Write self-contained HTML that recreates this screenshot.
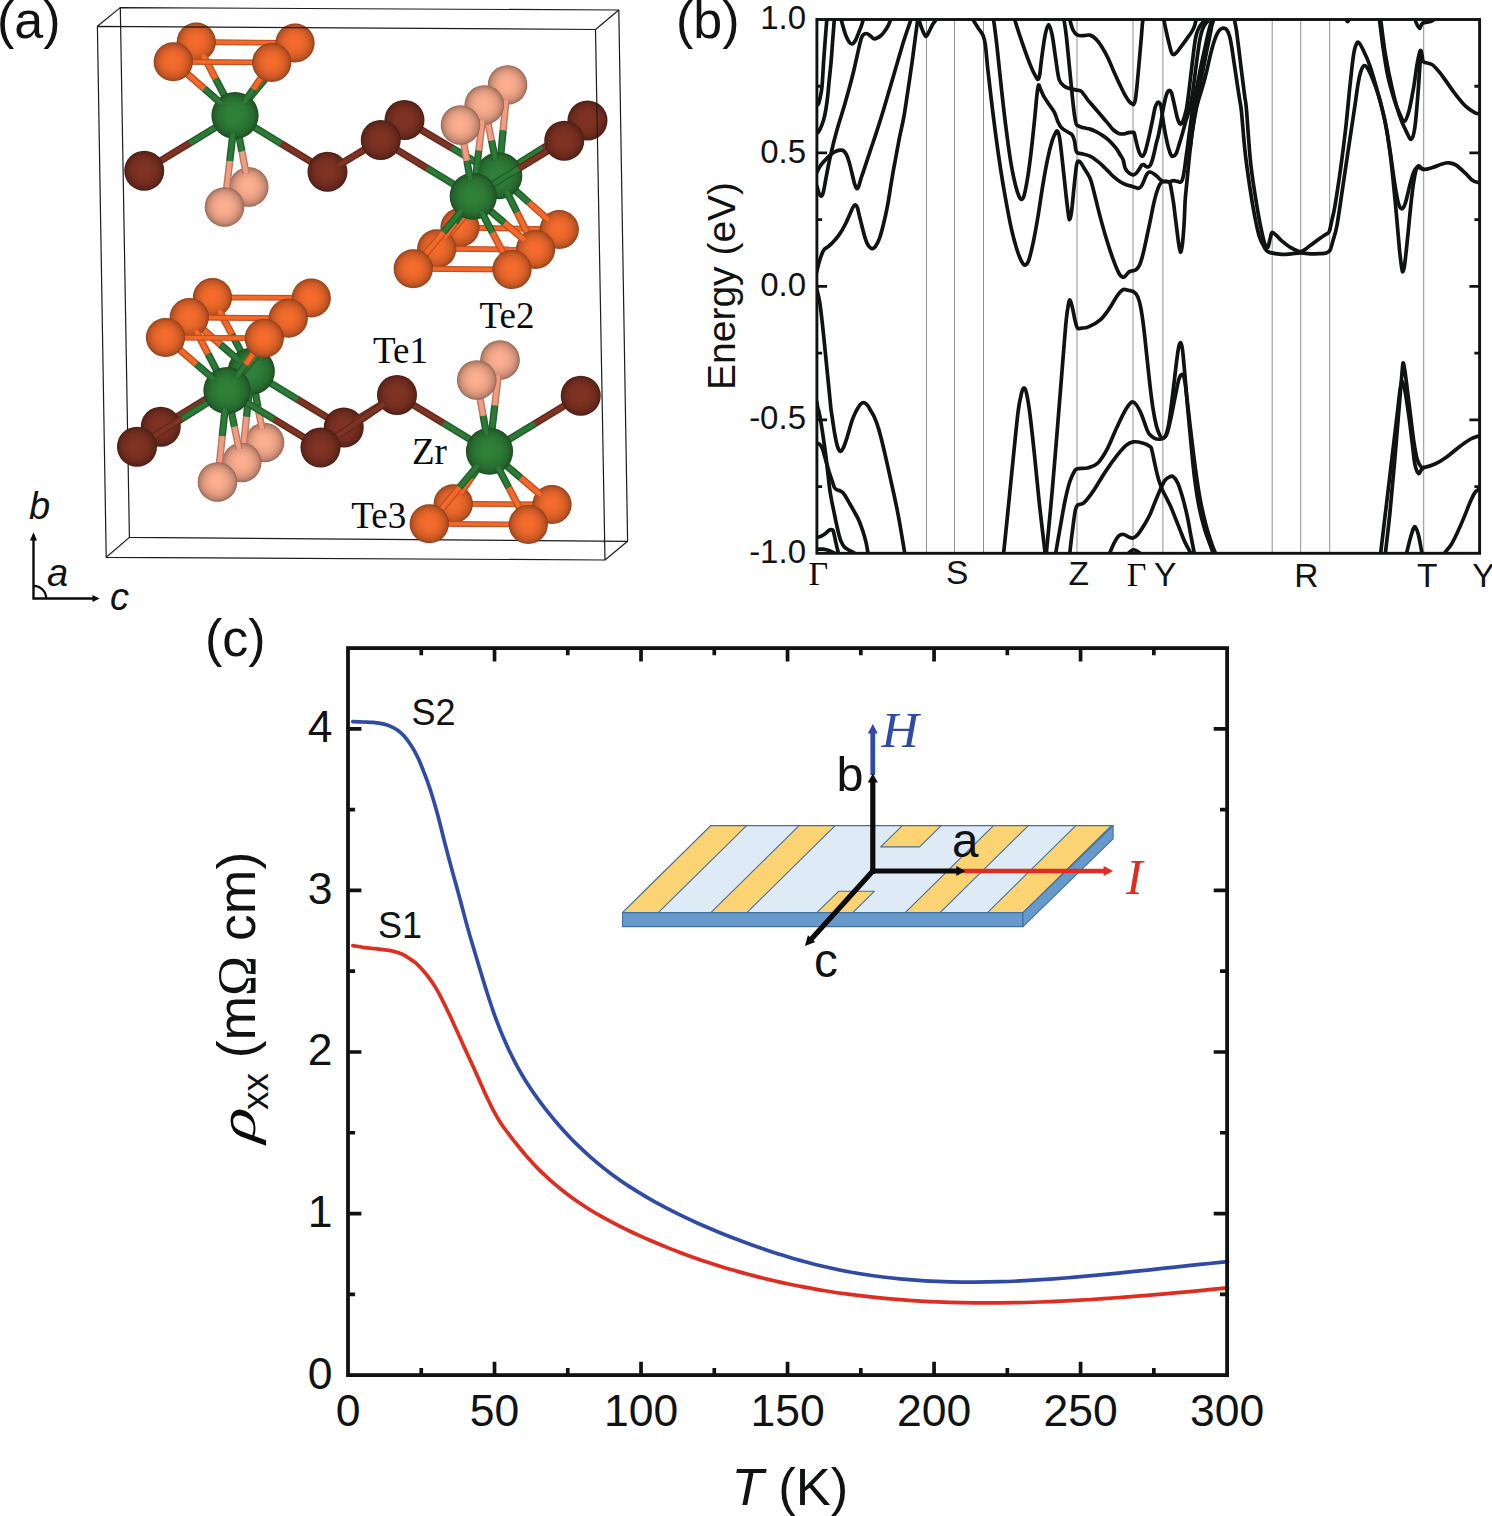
<!DOCTYPE html>
<html><head><meta charset="utf-8"><title>Figure</title>
<style>
html,body{margin:0;padding:0;background:#fff;}
body{width:1492px;height:1516px;overflow:hidden;font-family:"Liberation Sans",sans-serif;}
svg{display:block;}
.s{font-family:"Liberation Sans",sans-serif;fill:#111312;}
.r{font-family:"Liberation Serif",serif;fill:#0a0a0a;}
</style></head><body>
<svg width="1492" height="1516" viewBox="0 0 1492 1516">
<defs>
<radialGradient id="gO" cx="0.5" cy="0.5" r="0.5" fx="0.48" fy="0.47"><stop offset="0" stop-color="#f66c2c"/><stop offset="0.3" stop-color="#f06a2b"/><stop offset="0.5" stop-color="#e66529"/><stop offset="0.65" stop-color="#d85f27"/><stop offset="0.78" stop-color="#c85824"/><stop offset="0.87" stop-color="#b85121"/><stop offset="0.93" stop-color="#a84a1e"/><stop offset="0.97" stop-color="#99431b"/><stop offset="1" stop-color="#7b3616"/></radialGradient>
<radialGradient id="gG" cx="0.5" cy="0.5" r="0.5" fx="0.48" fy="0.47"><stop offset="0" stop-color="#2f8239"/><stop offset="0.3" stop-color="#2e7f38"/><stop offset="0.5" stop-color="#2c7935"/><stop offset="0.65" stop-color="#297232"/><stop offset="0.78" stop-color="#266a2e"/><stop offset="0.87" stop-color="#23612b"/><stop offset="0.93" stop-color="#205927"/><stop offset="0.97" stop-color="#1d5123"/><stop offset="1" stop-color="#18411c"/></radialGradient>
<radialGradient id="gB" cx="0.5" cy="0.5" r="0.5" fx="0.48" fy="0.47"><stop offset="0" stop-color="#813323"/><stop offset="0.3" stop-color="#7e3222"/><stop offset="0.5" stop-color="#783021"/><stop offset="0.65" stop-color="#722d1f"/><stop offset="0.78" stop-color="#69291c"/><stop offset="0.87" stop-color="#60261a"/><stop offset="0.93" stop-color="#582318"/><stop offset="0.97" stop-color="#502016"/><stop offset="1" stop-color="#401a12"/></radialGradient>
<radialGradient id="gP" cx="0.5" cy="0.5" r="0.5" fx="0.48" fy="0.47"><stop offset="0" stop-color="#ffb091"/><stop offset="0.3" stop-color="#f9ac8e"/><stop offset="0.5" stop-color="#eea487"/><stop offset="0.65" stop-color="#e09b80"/><stop offset="0.78" stop-color="#cf8f76"/><stop offset="0.87" stop-color="#be836c"/><stop offset="0.93" stop-color="#ae7863"/><stop offset="0.97" stop-color="#9e6d5a"/><stop offset="1" stop-color="#805848"/></radialGradient>
</defs>
<rect width="1492" height="1516" fill="#fff"/>
<g id="pa">
<path d="M120.3 7.6 L618.8 10 L627.6 541.3 L129.4 537.4Z" fill="none" stroke="#1c1c1c" stroke-width="1.2" stroke-linejoin="round"/>
<path d="M97.4 26.3 L120.3 7.6" fill="none" stroke="#1c1c1c" stroke-width="1.2" stroke-linejoin="round"/>
<path d="M595.5 29.5 L618.8 10" fill="none" stroke="#1c1c1c" stroke-width="1.2" stroke-linejoin="round"/>
<path d="M605 560 L627.6 541.3" fill="none" stroke="#1c1c1c" stroke-width="1.2" stroke-linejoin="round"/>
<path d="M106.2 557.3 L129.4 537.4" fill="none" stroke="#1c1c1c" stroke-width="1.2" stroke-linejoin="round"/>
<line x1="460" y1="227.5" x2="559.25" y2="229.5" stroke="#be5221" stroke-width="5.8"/><line x1="460" y1="227.5" x2="559.25" y2="229.5" stroke="#f4692a" stroke-width="3.48"/>
<line x1="212.5" y1="297.5" x2="311.25" y2="298" stroke="#be5221" stroke-width="5.8"/><line x1="212.5" y1="297.5" x2="311.25" y2="298" stroke="#f4692a" stroke-width="3.48"/>
<circle cx="460" cy="227.5" r="19.6" fill="url(#gO)"/>
<circle cx="559.25" cy="229.5" r="19.6" fill="url(#gO)"/>
<circle cx="507.5" cy="85" r="19.8" fill="url(#gP)"/>
<circle cx="212.5" cy="297.5" r="19.6" fill="url(#gO)"/>
<circle cx="311.25" cy="298" r="19.6" fill="url(#gO)"/>
<circle cx="264.5" cy="442.5" r="19.8" fill="url(#gP)"/>
<line x1="506.06" y1="99.96" x2="503.12" y2="130.38" stroke="#bb7a65" stroke-width="7.3"/><line x1="506.06" y1="99.96" x2="503.12" y2="130.38" stroke="#f09d82" stroke-width="4.38"/>
<line x1="467.58" y1="217.37" x2="479.38" y2="201.62" stroke="#be5221" stroke-width="7.3"/><line x1="467.58" y1="217.37" x2="479.38" y2="201.62" stroke="#f4692a" stroke-width="4.38"/>
<line x1="548.66" y1="220.09" x2="529" y2="202.62" stroke="#be5221" stroke-width="7.3"/><line x1="548.66" y1="220.09" x2="529" y2="202.62" stroke="#f4692a" stroke-width="4.38"/>
<line x1="262.02" y1="429.15" x2="257.88" y2="406.88" stroke="#bb7a65" stroke-width="7.3"/><line x1="262.02" y1="429.15" x2="257.88" y2="406.88" stroke="#f09d82" stroke-width="4.38"/>
<line x1="219.17" y1="310.2" x2="231.88" y2="334.38" stroke="#be5221" stroke-width="7.3"/><line x1="219.17" y1="310.2" x2="231.88" y2="334.38" stroke="#f4692a" stroke-width="4.38"/>
<line x1="301.68" y1="309.68" x2="281.25" y2="334.62" stroke="#be5221" stroke-width="7.3"/><line x1="301.68" y1="309.68" x2="281.25" y2="334.62" stroke="#f4692a" stroke-width="4.38"/>
<line x1="196.25" y1="42" x2="295" y2="43" stroke="#be5221" stroke-width="5.8"/><line x1="196.25" y1="42" x2="295" y2="43" stroke="#f4692a" stroke-width="3.48"/>
<line x1="498.75" y1="175.75" x2="451.37" y2="147.72" stroke="#225f2b" stroke-width="7.3"/><line x1="498.75" y1="175.75" x2="451.37" y2="147.72" stroke="#2c7a37" stroke-width="4.38"/>
<line x1="451.62" y1="147.88" x2="404.5" y2="120" stroke="#63291b" stroke-width="7.3"/><line x1="451.62" y1="147.88" x2="404.5" y2="120" stroke="#7f3423" stroke-width="4.38"/>
<line x1="498.75" y1="175.75" x2="543.38" y2="147.97" stroke="#225f2b" stroke-width="7.3"/><line x1="498.75" y1="175.75" x2="543.38" y2="147.97" stroke="#2c7a37" stroke-width="4.38"/>
<line x1="543.12" y1="148.12" x2="587.5" y2="120.5" stroke="#63291b" stroke-width="7.3"/><line x1="543.12" y1="148.12" x2="587.5" y2="120.5" stroke="#7f3423" stroke-width="4.38"/>
<line x1="503.12" y1="130.38" x2="498.75" y2="175.75" stroke="#225f2b" stroke-width="7.3"/><line x1="503.12" y1="130.38" x2="498.75" y2="175.75" stroke="#2c7a37" stroke-width="4.38"/>
<line x1="479.38" y1="201.62" x2="498.75" y2="175.75" stroke="#225f2b" stroke-width="7.3"/><line x1="479.38" y1="201.62" x2="498.75" y2="175.75" stroke="#2c7a37" stroke-width="4.38"/>
<line x1="529" y1="202.62" x2="498.75" y2="175.75" stroke="#225f2b" stroke-width="7.3"/><line x1="529" y1="202.62" x2="498.75" y2="175.75" stroke="#2c7a37" stroke-width="4.38"/>
<line x1="251.25" y1="371.25" x2="205.74" y2="399.16" stroke="#225f2b" stroke-width="7.3"/><line x1="251.25" y1="371.25" x2="205.74" y2="399.16" stroke="#2c7a37" stroke-width="4.38"/>
<line x1="206" y1="399" x2="160.75" y2="426.75" stroke="#63291b" stroke-width="7.3"/><line x1="206" y1="399" x2="160.75" y2="426.75" stroke="#7f3423" stroke-width="4.38"/>
<line x1="251.25" y1="371.25" x2="297.76" y2="399.53" stroke="#225f2b" stroke-width="7.3"/><line x1="251.25" y1="371.25" x2="297.76" y2="399.53" stroke="#2c7a37" stroke-width="4.38"/>
<line x1="297.5" y1="399.38" x2="343.75" y2="427.5" stroke="#63291b" stroke-width="7.3"/><line x1="297.5" y1="399.38" x2="343.75" y2="427.5" stroke="#7f3423" stroke-width="4.38"/>
<line x1="257.88" y1="406.88" x2="251.25" y2="371.25" stroke="#225f2b" stroke-width="7.3"/><line x1="257.88" y1="406.88" x2="251.25" y2="371.25" stroke="#2c7a37" stroke-width="4.38"/>
<line x1="231.88" y1="334.38" x2="251.25" y2="371.25" stroke="#225f2b" stroke-width="7.3"/><line x1="231.88" y1="334.38" x2="251.25" y2="371.25" stroke="#2c7a37" stroke-width="4.38"/>
<line x1="281.25" y1="334.62" x2="251.25" y2="371.25" stroke="#225f2b" stroke-width="7.3"/><line x1="281.25" y1="334.62" x2="251.25" y2="371.25" stroke="#2c7a37" stroke-width="4.38"/>
<line x1="453.25" y1="503.75" x2="552" y2="504.5" stroke="#be5221" stroke-width="5.8"/><line x1="453.25" y1="503.75" x2="552" y2="504.5" stroke="#f4692a" stroke-width="3.48"/>
<circle cx="196.25" cy="42" r="19.6" fill="url(#gO)"/>
<circle cx="295" cy="43" r="19.6" fill="url(#gO)"/>
<circle cx="248.75" cy="187" r="19.8" fill="url(#gP)"/>
<circle cx="498.75" cy="175.75" r="23.6" fill="url(#gG)"/>
<circle cx="404.5" cy="120" r="20" fill="url(#gB)"/>
<circle cx="587.5" cy="120.5" r="20" fill="url(#gB)"/>
<circle cx="251.25" cy="371.25" r="23.6" fill="url(#gG)"/>
<circle cx="160.75" cy="426.75" r="20" fill="url(#gB)"/>
<circle cx="343.75" cy="427.5" r="20" fill="url(#gB)"/>
<circle cx="453.25" cy="503.75" r="19.6" fill="url(#gO)"/>
<circle cx="552" cy="504.5" r="19.6" fill="url(#gO)"/>
<circle cx="500" cy="360" r="19.8" fill="url(#gP)"/>
<line x1="202.93" y1="54.67" x2="215.62" y2="78.75" stroke="#be5221" stroke-width="7.3"/><line x1="202.93" y1="54.67" x2="215.62" y2="78.75" stroke="#f4692a" stroke-width="4.38"/>
<line x1="285.4" y1="54.6" x2="265" y2="79.25" stroke="#be5221" stroke-width="7.3"/><line x1="285.4" y1="54.6" x2="265" y2="79.25" stroke="#f4692a" stroke-width="4.38"/>
<line x1="246.18" y1="173.64" x2="241.88" y2="151.25" stroke="#bb7a65" stroke-width="7.3"/><line x1="246.18" y1="173.64" x2="241.88" y2="151.25" stroke="#f09d82" stroke-width="4.38"/>
<line x1="495.51" y1="159.92" x2="491.5" y2="140.38" stroke="#225f2b" stroke-width="7.3"/><line x1="495.51" y1="159.92" x2="491.5" y2="140.38" stroke="#2c7a37" stroke-width="4.38"/>
<line x1="486.93" y1="189.66" x2="467.75" y2="212.25" stroke="#225f2b" stroke-width="7.3"/><line x1="486.93" y1="189.66" x2="467.75" y2="212.25" stroke="#2c7a37" stroke-width="4.38"/>
<line x1="506.42" y1="191.13" x2="517.12" y2="212.62" stroke="#225f2b" stroke-width="7.3"/><line x1="506.42" y1="191.13" x2="517.12" y2="212.62" stroke="#2c7a37" stroke-width="4.38"/>
<line x1="249.39" y1="389.11" x2="246.5" y2="416.88" stroke="#225f2b" stroke-width="7.3"/><line x1="249.39" y1="389.11" x2="246.5" y2="416.88" stroke="#2c7a37" stroke-width="4.38"/>
<line x1="238.29" y1="360.01" x2="220.25" y2="344.38" stroke="#225f2b" stroke-width="7.3"/><line x1="238.29" y1="360.01" x2="220.25" y2="344.38" stroke="#2c7a37" stroke-width="4.38"/>
<line x1="259.97" y1="358.76" x2="269.75" y2="344.75" stroke="#225f2b" stroke-width="7.3"/><line x1="259.97" y1="358.76" x2="269.75" y2="344.75" stroke="#2c7a37" stroke-width="4.38"/>
<line x1="354.55" y1="420.91" x2="370.38" y2="411.25" stroke="#63291b" stroke-width="7.3"/><line x1="354.55" y1="420.91" x2="370.38" y2="411.25" stroke="#7f3423" stroke-width="4.38"/>
<line x1="460.39" y1="493.41" x2="471.38" y2="477.5" stroke="#be5221" stroke-width="7.3"/><line x1="460.39" y1="493.41" x2="471.38" y2="477.5" stroke="#f4692a" stroke-width="4.38"/>
<line x1="541.15" y1="495.26" x2="520.75" y2="477.88" stroke="#be5221" stroke-width="7.3"/><line x1="541.15" y1="495.26" x2="520.75" y2="477.88" stroke="#f4692a" stroke-width="4.38"/>
<line x1="498.28" y1="374.98" x2="494.75" y2="405.62" stroke="#bb7a65" stroke-width="7.3"/><line x1="498.28" y1="374.98" x2="494.75" y2="405.62" stroke="#f09d82" stroke-width="4.38"/>
<line x1="215.62" y1="78.75" x2="235" y2="115.5" stroke="#225f2b" stroke-width="7.3"/><line x1="215.62" y1="78.75" x2="235" y2="115.5" stroke="#2c7a37" stroke-width="4.38"/>
<line x1="265" y1="79.25" x2="235" y2="115.5" stroke="#225f2b" stroke-width="7.3"/><line x1="265" y1="79.25" x2="235" y2="115.5" stroke="#2c7a37" stroke-width="4.38"/>
<line x1="235" y1="115.5" x2="189.37" y2="143.28" stroke="#225f2b" stroke-width="7.3"/><line x1="235" y1="115.5" x2="189.37" y2="143.28" stroke="#2c7a37" stroke-width="4.38"/>
<line x1="189.62" y1="143.12" x2="144.25" y2="170.75" stroke="#63291b" stroke-width="7.3"/><line x1="189.62" y1="143.12" x2="144.25" y2="170.75" stroke="#7f3423" stroke-width="4.38"/>
<line x1="235" y1="115.5" x2="281.51" y2="143.78" stroke="#225f2b" stroke-width="7.3"/><line x1="235" y1="115.5" x2="281.51" y2="143.78" stroke="#2c7a37" stroke-width="4.38"/>
<line x1="281.25" y1="143.62" x2="327.5" y2="171.75" stroke="#63291b" stroke-width="7.3"/><line x1="281.25" y1="143.62" x2="327.5" y2="171.75" stroke="#7f3423" stroke-width="4.38"/>
<line x1="241.88" y1="151.25" x2="235" y2="115.5" stroke="#225f2b" stroke-width="7.3"/><line x1="241.88" y1="151.25" x2="235" y2="115.5" stroke="#2c7a37" stroke-width="4.38"/>
<line x1="491.5" y1="140.38" x2="484.25" y2="105" stroke="#bb7a65" stroke-width="7.3"/><line x1="491.5" y1="140.38" x2="484.25" y2="105" stroke="#f09d82" stroke-width="4.38"/>
<line x1="467.75" y1="212.25" x2="436.75" y2="248.75" stroke="#be5221" stroke-width="7.3"/><line x1="467.75" y1="212.25" x2="436.75" y2="248.75" stroke="#f4692a" stroke-width="4.38"/>
<line x1="517.12" y1="212.62" x2="535.5" y2="249.5" stroke="#be5221" stroke-width="7.3"/><line x1="517.12" y1="212.62" x2="535.5" y2="249.5" stroke="#f4692a" stroke-width="4.38"/>
<line x1="436.75" y1="248.75" x2="535.5" y2="249.5" stroke="#be5221" stroke-width="5.8"/><line x1="436.75" y1="248.75" x2="535.5" y2="249.5" stroke="#f4692a" stroke-width="3.48"/>
<line x1="246.5" y1="416.88" x2="241.75" y2="462.5" stroke="#bb7a65" stroke-width="7.3"/><line x1="246.5" y1="416.88" x2="241.75" y2="462.5" stroke="#f09d82" stroke-width="4.38"/>
<line x1="220.25" y1="344.38" x2="189.25" y2="317.5" stroke="#be5221" stroke-width="7.3"/><line x1="220.25" y1="344.38" x2="189.25" y2="317.5" stroke="#f4692a" stroke-width="4.38"/>
<line x1="269.75" y1="344.75" x2="288.25" y2="318.25" stroke="#be5221" stroke-width="7.3"/><line x1="269.75" y1="344.75" x2="288.25" y2="318.25" stroke="#f4692a" stroke-width="4.38"/>
<line x1="189.25" y1="317.5" x2="288.25" y2="318.25" stroke="#be5221" stroke-width="5.8"/><line x1="189.25" y1="317.5" x2="288.25" y2="318.25" stroke="#f4692a" stroke-width="3.48"/>
<line x1="370.38" y1="411.25" x2="397" y2="395" stroke="#63291b" stroke-width="7.3"/><line x1="370.38" y1="411.25" x2="397" y2="395" stroke="#7f3423" stroke-width="4.38"/>
<line x1="471.38" y1="477.5" x2="489.5" y2="451.25" stroke="#225f2b" stroke-width="7.3"/><line x1="471.38" y1="477.5" x2="489.5" y2="451.25" stroke="#2c7a37" stroke-width="4.38"/>
<line x1="520.75" y1="477.88" x2="489.5" y2="451.25" stroke="#225f2b" stroke-width="7.3"/><line x1="520.75" y1="477.88" x2="489.5" y2="451.25" stroke="#2c7a37" stroke-width="4.38"/>
<line x1="489.5" y1="451.25" x2="442.99" y2="422.97" stroke="#225f2b" stroke-width="7.3"/><line x1="489.5" y1="451.25" x2="442.99" y2="422.97" stroke="#2c7a37" stroke-width="4.38"/>
<line x1="443.25" y1="423.12" x2="397" y2="395" stroke="#63291b" stroke-width="7.3"/><line x1="443.25" y1="423.12" x2="397" y2="395" stroke="#7f3423" stroke-width="4.38"/>
<line x1="489.5" y1="451.25" x2="535.38" y2="423.34" stroke="#225f2b" stroke-width="7.3"/><line x1="489.5" y1="451.25" x2="535.38" y2="423.34" stroke="#2c7a37" stroke-width="4.38"/>
<line x1="535.12" y1="423.5" x2="580.75" y2="395.75" stroke="#63291b" stroke-width="7.3"/><line x1="535.12" y1="423.5" x2="580.75" y2="395.75" stroke="#7f3423" stroke-width="4.38"/>
<line x1="494.75" y1="405.62" x2="489.5" y2="451.25" stroke="#225f2b" stroke-width="7.3"/><line x1="494.75" y1="405.62" x2="489.5" y2="451.25" stroke="#2c7a37" stroke-width="4.38"/>
<circle cx="235" cy="115.5" r="23.6" fill="url(#gG)"/>
<circle cx="144.25" cy="170.75" r="20" fill="url(#gB)"/>
<circle cx="327.5" cy="171.75" r="20" fill="url(#gB)"/>
<circle cx="436.75" cy="248.75" r="19.6" fill="url(#gO)"/>
<circle cx="535.5" cy="249.5" r="19.6" fill="url(#gO)"/>
<circle cx="484.25" cy="105" r="19.8" fill="url(#gP)"/>
<circle cx="189.25" cy="317.5" r="19.6" fill="url(#gO)"/>
<circle cx="288.25" cy="318.25" r="19.6" fill="url(#gO)"/>
<circle cx="241.75" cy="462.5" r="19.8" fill="url(#gP)"/>
<circle cx="489.5" cy="451.25" r="23.6" fill="url(#gG)"/>
<circle cx="397" cy="395" r="20" fill="url(#gB)"/>
<circle cx="580.75" cy="395.75" r="20" fill="url(#gB)"/>
<line x1="222.07" y1="104.25" x2="204.12" y2="88.62" stroke="#225f2b" stroke-width="7.3"/><line x1="222.07" y1="104.25" x2="204.12" y2="88.62" stroke="#2c7a37" stroke-width="4.38"/>
<line x1="243.67" y1="103" x2="253.38" y2="89" stroke="#225f2b" stroke-width="7.3"/><line x1="243.67" y1="103" x2="253.38" y2="89" stroke="#2c7a37" stroke-width="4.38"/>
<line x1="232.95" y1="133.37" x2="229.75" y2="161.25" stroke="#225f2b" stroke-width="7.3"/><line x1="232.95" y1="133.37" x2="229.75" y2="161.25" stroke="#2c7a37" stroke-width="4.38"/>
<line x1="338.33" y1="165.29" x2="354.12" y2="155.88" stroke="#63291b" stroke-width="7.3"/><line x1="338.33" y1="165.29" x2="354.12" y2="155.88" stroke="#7f3423" stroke-width="4.38"/>
<line x1="482.45" y1="119.97" x2="478.75" y2="150.62" stroke="#bb7a65" stroke-width="7.3"/><line x1="482.45" y1="119.97" x2="478.75" y2="150.62" stroke="#f09d82" stroke-width="4.38"/>
<line x1="443.93" y1="238.42" x2="455" y2="222.5" stroke="#be5221" stroke-width="7.3"/><line x1="443.93" y1="238.42" x2="455" y2="222.5" stroke="#f4692a" stroke-width="4.38"/>
<line x1="524.68" y1="240.25" x2="504.38" y2="222.88" stroke="#be5221" stroke-width="7.3"/><line x1="524.68" y1="240.25" x2="504.38" y2="222.88" stroke="#f4692a" stroke-width="4.38"/>
<line x1="239.01" y1="449.11" x2="234.38" y2="426.5" stroke="#bb7a65" stroke-width="7.3"/><line x1="239.01" y1="449.11" x2="234.38" y2="426.5" stroke="#f09d82" stroke-width="4.38"/>
<line x1="195.8" y1="330.16" x2="208.12" y2="354" stroke="#be5221" stroke-width="7.3"/><line x1="195.8" y1="330.16" x2="208.12" y2="354" stroke="#f4692a" stroke-width="4.38"/>
<line x1="278.49" y1="329.77" x2="257.62" y2="354.38" stroke="#be5221" stroke-width="7.3"/><line x1="278.49" y1="329.77" x2="257.62" y2="354.38" stroke="#f4692a" stroke-width="4.38"/>
<line x1="384.4" y1="403.65" x2="358.75" y2="421.25" stroke="#63291b" stroke-width="7.3"/><line x1="384.4" y1="403.65" x2="358.75" y2="421.25" stroke="#7f3423" stroke-width="4.38"/>
<line x1="477.9" y1="465.21" x2="459.38" y2="487.5" stroke="#225f2b" stroke-width="7.3"/><line x1="477.9" y1="465.21" x2="459.38" y2="487.5" stroke="#2c7a37" stroke-width="4.38"/>
<line x1="497.56" y1="466.48" x2="508.88" y2="487.88" stroke="#225f2b" stroke-width="7.3"/><line x1="497.56" y1="466.48" x2="508.88" y2="487.88" stroke="#2c7a37" stroke-width="4.38"/>
<line x1="486.65" y1="435.33" x2="483.12" y2="415.62" stroke="#225f2b" stroke-width="7.3"/><line x1="486.65" y1="435.33" x2="483.12" y2="415.62" stroke="#2c7a37" stroke-width="4.38"/>
<line x1="204.12" y1="88.62" x2="173.25" y2="61.75" stroke="#be5221" stroke-width="7.3"/><line x1="204.12" y1="88.62" x2="173.25" y2="61.75" stroke="#f4692a" stroke-width="4.38"/>
<line x1="253.38" y1="89" x2="271.75" y2="62.5" stroke="#be5221" stroke-width="7.3"/><line x1="253.38" y1="89" x2="271.75" y2="62.5" stroke="#f4692a" stroke-width="4.38"/>
<line x1="229.75" y1="161.25" x2="224.5" y2="207" stroke="#bb7a65" stroke-width="7.3"/><line x1="229.75" y1="161.25" x2="224.5" y2="207" stroke="#f09d82" stroke-width="4.38"/>
<line x1="173.25" y1="61.75" x2="271.75" y2="62.5" stroke="#be5221" stroke-width="5.8"/><line x1="173.25" y1="61.75" x2="271.75" y2="62.5" stroke="#f4692a" stroke-width="3.48"/>
<line x1="354.12" y1="155.88" x2="380.75" y2="140" stroke="#63291b" stroke-width="7.3"/><line x1="354.12" y1="155.88" x2="380.75" y2="140" stroke="#7f3423" stroke-width="4.38"/>
<line x1="473.25" y1="196.25" x2="426.74" y2="167.97" stroke="#225f2b" stroke-width="7.3"/><line x1="473.25" y1="196.25" x2="426.74" y2="167.97" stroke="#2c7a37" stroke-width="4.38"/>
<line x1="427" y1="168.12" x2="380.75" y2="140" stroke="#63291b" stroke-width="7.3"/><line x1="427" y1="168.12" x2="380.75" y2="140" stroke="#7f3423" stroke-width="4.38"/>
<line x1="473.25" y1="196.25" x2="519.01" y2="168.34" stroke="#225f2b" stroke-width="7.3"/><line x1="473.25" y1="196.25" x2="519.01" y2="168.34" stroke="#2c7a37" stroke-width="4.38"/>
<line x1="518.75" y1="168.5" x2="564.25" y2="140.75" stroke="#63291b" stroke-width="7.3"/><line x1="518.75" y1="168.5" x2="564.25" y2="140.75" stroke="#7f3423" stroke-width="4.38"/>
<line x1="478.75" y1="150.62" x2="473.25" y2="196.25" stroke="#225f2b" stroke-width="7.3"/><line x1="478.75" y1="150.62" x2="473.25" y2="196.25" stroke="#2c7a37" stroke-width="4.38"/>
<line x1="455" y1="222.5" x2="473.25" y2="196.25" stroke="#225f2b" stroke-width="7.3"/><line x1="455" y1="222.5" x2="473.25" y2="196.25" stroke="#2c7a37" stroke-width="4.38"/>
<line x1="504.38" y1="222.88" x2="473.25" y2="196.25" stroke="#225f2b" stroke-width="7.3"/><line x1="504.38" y1="222.88" x2="473.25" y2="196.25" stroke="#2c7a37" stroke-width="4.38"/>
<line x1="227" y1="390.5" x2="181.75" y2="418.78" stroke="#225f2b" stroke-width="7.3"/><line x1="227" y1="390.5" x2="181.75" y2="418.78" stroke="#2c7a37" stroke-width="4.38"/>
<line x1="182" y1="418.62" x2="137" y2="446.75" stroke="#63291b" stroke-width="7.3"/><line x1="182" y1="418.62" x2="137" y2="446.75" stroke="#7f3423" stroke-width="4.38"/>
<line x1="227" y1="390.5" x2="274.01" y2="419.16" stroke="#225f2b" stroke-width="7.3"/><line x1="227" y1="390.5" x2="274.01" y2="419.16" stroke="#2c7a37" stroke-width="4.38"/>
<line x1="273.75" y1="419" x2="320.5" y2="447.5" stroke="#63291b" stroke-width="7.3"/><line x1="273.75" y1="419" x2="320.5" y2="447.5" stroke="#7f3423" stroke-width="4.38"/>
<line x1="234.38" y1="426.5" x2="227" y2="390.5" stroke="#225f2b" stroke-width="7.3"/><line x1="234.38" y1="426.5" x2="227" y2="390.5" stroke="#2c7a37" stroke-width="4.38"/>
<line x1="208.12" y1="354" x2="227" y2="390.5" stroke="#225f2b" stroke-width="7.3"/><line x1="208.12" y1="354" x2="227" y2="390.5" stroke="#2c7a37" stroke-width="4.38"/>
<line x1="257.62" y1="354.38" x2="227" y2="390.5" stroke="#225f2b" stroke-width="7.3"/><line x1="257.62" y1="354.38" x2="227" y2="390.5" stroke="#2c7a37" stroke-width="4.38"/>
<line x1="358.75" y1="421.25" x2="320.5" y2="447.5" stroke="#63291b" stroke-width="7.3"/><line x1="358.75" y1="421.25" x2="320.5" y2="447.5" stroke="#7f3423" stroke-width="4.38"/>
<line x1="459.38" y1="487.5" x2="429.25" y2="523.75" stroke="#be5221" stroke-width="7.3"/><line x1="459.38" y1="487.5" x2="429.25" y2="523.75" stroke="#f4692a" stroke-width="4.38"/>
<line x1="508.88" y1="487.88" x2="528.25" y2="524.5" stroke="#be5221" stroke-width="7.3"/><line x1="508.88" y1="487.88" x2="528.25" y2="524.5" stroke="#f4692a" stroke-width="4.38"/>
<line x1="483.12" y1="415.62" x2="476.75" y2="380" stroke="#bb7a65" stroke-width="7.3"/><line x1="483.12" y1="415.62" x2="476.75" y2="380" stroke="#f09d82" stroke-width="4.38"/>
<line x1="429.25" y1="523.75" x2="528.25" y2="524.5" stroke="#be5221" stroke-width="5.8"/><line x1="429.25" y1="523.75" x2="528.25" y2="524.5" stroke="#f4692a" stroke-width="3.48"/>
<circle cx="173.25" cy="61.75" r="19.6" fill="url(#gO)"/>
<circle cx="271.75" cy="62.5" r="19.6" fill="url(#gO)"/>
<circle cx="224.5" cy="207" r="19.8" fill="url(#gP)"/>
<circle cx="473.25" cy="196.25" r="23.6" fill="url(#gG)"/>
<circle cx="380.75" cy="140" r="20" fill="url(#gB)"/>
<circle cx="564.25" cy="140.75" r="20" fill="url(#gB)"/>
<circle cx="227" cy="390.5" r="23.6" fill="url(#gG)"/>
<circle cx="137" cy="446.75" r="20" fill="url(#gB)"/>
<circle cx="320.5" cy="447.5" r="20" fill="url(#gB)"/>
<circle cx="429.25" cy="523.75" r="19.6" fill="url(#gO)"/>
<circle cx="528.25" cy="524.5" r="19.6" fill="url(#gO)"/>
<circle cx="476.75" cy="380" r="19.8" fill="url(#gP)"/>
<line x1="470.4" y1="180.33" x2="466.88" y2="160.62" stroke="#225f2b" stroke-width="7.3"/><line x1="470.4" y1="180.33" x2="466.88" y2="160.62" stroke="#2c7a37" stroke-width="4.38"/>
<line x1="461.69" y1="210.22" x2="443.25" y2="232.5" stroke="#225f2b" stroke-width="7.3"/><line x1="461.69" y1="210.22" x2="443.25" y2="232.5" stroke="#2c7a37" stroke-width="4.38"/>
<line x1="481.31" y1="211.48" x2="492.62" y2="232.88" stroke="#225f2b" stroke-width="7.3"/><line x1="481.31" y1="211.48" x2="492.62" y2="232.88" stroke="#2c7a37" stroke-width="4.38"/>
<line x1="225.14" y1="408.38" x2="222.25" y2="436.25" stroke="#225f2b" stroke-width="7.3"/><line x1="225.14" y1="408.38" x2="222.25" y2="436.25" stroke="#2c7a37" stroke-width="4.38"/>
<line x1="214.07" y1="379.35" x2="196.25" y2="364" stroke="#225f2b" stroke-width="7.3"/><line x1="214.07" y1="379.35" x2="196.25" y2="364" stroke="#2c7a37" stroke-width="4.38"/>
<line x1="235.81" y1="378.15" x2="245.62" y2="364.38" stroke="#225f2b" stroke-width="7.3"/><line x1="235.81" y1="378.15" x2="245.62" y2="364.38" stroke="#2c7a37" stroke-width="4.38"/>
<line x1="466.88" y1="160.62" x2="460.5" y2="125" stroke="#bb7a65" stroke-width="7.3"/><line x1="466.88" y1="160.62" x2="460.5" y2="125" stroke="#f09d82" stroke-width="4.38"/>
<line x1="443.25" y1="232.5" x2="413.25" y2="268.75" stroke="#be5221" stroke-width="7.3"/><line x1="443.25" y1="232.5" x2="413.25" y2="268.75" stroke="#f4692a" stroke-width="4.38"/>
<line x1="492.62" y1="232.88" x2="512" y2="269.5" stroke="#be5221" stroke-width="7.3"/><line x1="492.62" y1="232.88" x2="512" y2="269.5" stroke="#f4692a" stroke-width="4.38"/>
<line x1="413.25" y1="268.75" x2="512" y2="269.5" stroke="#be5221" stroke-width="5.8"/><line x1="413.25" y1="268.75" x2="512" y2="269.5" stroke="#f4692a" stroke-width="3.48"/>
<line x1="222.25" y1="436.25" x2="217.5" y2="482" stroke="#bb7a65" stroke-width="7.3"/><line x1="222.25" y1="436.25" x2="217.5" y2="482" stroke="#f09d82" stroke-width="4.38"/>
<line x1="196.25" y1="364" x2="165.5" y2="337.5" stroke="#be5221" stroke-width="7.3"/><line x1="196.25" y1="364" x2="165.5" y2="337.5" stroke="#f4692a" stroke-width="4.38"/>
<line x1="245.62" y1="364.38" x2="264.25" y2="338.25" stroke="#be5221" stroke-width="7.3"/><line x1="245.62" y1="364.38" x2="264.25" y2="338.25" stroke="#f4692a" stroke-width="4.38"/>
<line x1="165.5" y1="337.5" x2="264.25" y2="338.25" stroke="#be5221" stroke-width="5.8"/><line x1="165.5" y1="337.5" x2="264.25" y2="338.25" stroke="#f4692a" stroke-width="3.48"/>
<circle cx="413.25" cy="268.75" r="19.6" fill="url(#gO)"/>
<circle cx="512" cy="269.5" r="19.6" fill="url(#gO)"/>
<circle cx="460.5" cy="125" r="19.8" fill="url(#gP)"/>
<circle cx="165.5" cy="337.5" r="19.6" fill="url(#gO)"/>
<circle cx="264.25" cy="338.25" r="19.6" fill="url(#gO)"/>
<circle cx="217.5" cy="482" r="19.8" fill="url(#gP)"/>
<path d="M97.4 26.3 L595.5 29.5 L605 560 L106.2 557.3Z" fill="none" stroke="#1c1c1c" stroke-width="1.2" stroke-linejoin="round"/>
<text x="373" y="362.5" font-size="37" class="r">Te1</text>
<text x="479.5" y="328" font-size="37" class="r">Te2</text>
<text x="412" y="463.8" font-size="37" class="r">Zr</text>
<text x="351.2" y="527.5" font-size="37" class="r">Te3</text>
<path d="M33.5 540V598.5H93" fill="none" stroke="#0c0c0c" stroke-width="2.4" stroke-linejoin="miter"/>
<polygon points="33.5,532.2 30,540.5 37,540.5" fill="#0c0c0c"/>
<polygon points="99.7,598.5 92.5,595 92.5,602" fill="#0c0c0c"/>
<path d="M33.5 585.8A12.7 12.7 0 0 1 46.2 598.5" fill="none" stroke="#0c0c0c" stroke-width="2.3"/>
<text x="29" y="519.3" font-size="38" font-style="italic" class="s">b</text>
<text x="47" y="586.4" font-size="38" font-style="italic" class="s">a</text>
<text x="110" y="610" font-size="38" font-style="italic" class="s">c</text>
<text x="-3" y="37.5" font-size="52" class="s">(a)</text>
</g>
<g id="pb">
<clipPath id="cb"><rect x="816.9" y="19.5" width="662.7" height="533.8"/></clipPath>
<path d="M926.5 19.5V553.3M954.5 19.5V553.3M983.5 19.5V553.3M1077 19.5V553.3M1133 19.5V553.3M1162.9 19.5V553.3M1272.2 19.5V553.3M1300.7 19.5V553.3M1329.7 19.5V553.3M1423.7 19.5V553.3" stroke="#868686" stroke-width="0.9" fill="none"/>
<g clip-path="url(#cb)" fill="none" stroke="#111312" stroke-width="3.7" stroke-linejoin="round" stroke-linecap="round">
<path d="M816.5 272.8C816.92 271.12 818.15 265.72 819 262.7C819.85 259.68 820.75 256.88 821.6 254.7C822.45 252.52 823.02 250.95 824.1 249.6C825.18 248.25 826.6 247.85 828.1 246.6C829.6 245.35 831.25 244.1 833.1 242.1C834.95 240.1 837.18 237.53 839.2 234.6C841.22 231.67 843.37 228.03 845.2 224.5C847.03 220.97 848.87 216.33 850.2 213.4C851.53 210.47 852.37 208.32 853.2 206.9C854.03 205.48 854.52 204.82 855.2 204.9C855.88 204.98 856.62 205.63 857.3 207.4C857.98 209.17 858.47 212.15 859.3 215.5C860.13 218.85 861.3 223.65 862.3 227.5C863.3 231.35 864.3 235.58 865.3 238.6C866.3 241.62 867.22 243.93 868.3 245.6C869.38 247.27 870.63 248.43 871.8 248.6C872.97 248.77 874.03 248.27 875.3 246.6C876.57 244.93 878.05 242.28 879.4 238.6C880.75 234.92 882.07 229.87 883.4 224.5C884.73 219.13 886.23 212.43 887.4 206.4C888.57 200.37 889.4 194.33 890.4 188.3C891.4 182.27 892.5 175.33 893.4 170.2C894.3 165.07 894.78 162.95 895.8 157.5C896.82 152.05 898.17 144.22 899.5 137.5C900.83 130.78 902.38 125.12 903.8 117.2C905.22 109.28 906.65 98.93 908 90C909.35 81.07 910.73 71.93 911.9 63.6C913.07 55.27 914.12 46.7 915 40C915.88 33.3 916.62 28.07 917.2 23.4C917.78 18.73 918.28 13.9 918.5 12"/>
<path d="M817 172.2C817.52 171.2 818.75 168.2 820.1 166.2C821.45 164.2 823.43 162.05 825.1 160.2C826.77 158.35 828.43 156.53 830.1 155.1C831.77 153.67 833.42 152.43 835.1 151.6C836.78 150.77 838.85 150.27 840.2 150.1C841.55 149.93 842.2 149.93 843.2 150.6C844.2 151.27 845.2 152.17 846.2 154.1C847.2 156.03 848.2 158.85 849.2 162.2C850.2 165.55 851.28 170.52 852.2 174.2C853.12 177.88 853.93 181.9 854.7 184.3C855.47 186.7 856.13 188.27 856.8 188.6C857.47 188.93 858 187.98 858.7 186.3C859.4 184.62 860.18 181.07 861 178.5C861.82 175.93 862.05 175.53 863.6 170.9C865.15 166.27 868.07 157.42 870.3 150.7C872.53 143.98 874.77 137.52 877 130.6C879.23 123.68 881.47 116.57 883.7 109.2C885.93 101.83 888.17 94 890.4 86.4C892.63 78.8 894.87 71.2 897.1 63.6C899.33 56 901.57 47.95 903.8 40.8C906.03 33.65 909.05 25.5 910.5 20.7C911.95 15.9 912.17 13.45 912.5 12"/>
<path d="M817 186.3C817.33 187.47 818.28 191.65 819 193.3C819.72 194.95 820.58 196.37 821.3 196.2C822.02 196.03 822.5 195.4 823.3 192.3C824.1 189.2 824.97 183.4 826.1 177.6C827.23 171.8 828.32 165.33 830.1 157.5C831.88 149.67 834.33 139.55 836.8 130.6C839.27 121.65 842.22 113.18 844.9 103.8C847.58 94.42 850.45 84.12 852.9 74.3C855.35 64.48 858.03 51.28 859.6 44.9C861.17 38.52 861.18 37.9 862.3 36C863.42 34.1 865.02 33.58 866.3 33.5C867.58 33.42 868.67 34.62 870 35.5C871.33 36.38 872.47 38.8 874.3 38.8C876.13 38.8 878.98 37.17 881 35.5C883.02 33.83 884.83 31.27 886.4 28.8C887.97 26.33 889.38 23.33 890.4 20.7C891.42 18.07 892.15 14.28 892.5 13"/>
<path d="M839.41 11.73C839.88 13.68 841.17 19.55 842.22 23.46C843.28 27.37 844.57 32.06 845.74 35.19C846.92 38.31 848.21 40.78 849.26 42.22C850.32 43.67 851.1 44.06 852.08 43.87C853.05 43.67 854.03 42.89 855.13 41.05C856.22 39.21 857.47 35.77 858.64 32.84C859.82 29.91 861.07 26.98 862.16 23.46C863.26 19.94 864.7 13.68 865.21 11.73"/>
<path d="M816.9 133C817.18 132.78 817.82 132.92 818.6 131.7C819.38 130.48 820.58 128.38 821.6 125.7C822.62 123.02 823.77 119.8 824.7 115.6C825.63 111.4 826.45 106.37 827.2 100.5C827.95 94.63 828.53 87.1 829.2 80.4C829.87 73.7 830.62 67 831.2 60.3C831.78 53.6 832.2 46.77 832.7 40.2C833.2 33.63 833.82 25.93 834.2 20.9C834.58 15.87 834.87 11.82 835 10"/>
<path d="M816.9 105C817.18 104.75 817.98 105.08 818.6 103.5C819.22 101.92 820.02 98.5 820.6 95.5C821.18 92.5 821.58 91.37 822.1 85.5C822.62 79.63 823.18 67.85 823.7 60.3C824.22 52.75 824.7 46.77 825.2 40.2C825.7 33.63 826.35 25.93 826.7 20.9C827.05 15.87 827.2 11.82 827.3 10"/>
<path d="M916.82 9.38C917.29 11.53 918.58 18.57 919.63 22.28C920.69 26 922.1 29.32 923.15 31.67C924.21 34.01 924.99 36.36 925.97 36.36C926.95 36.36 927.92 33.62 929.02 31.67C930.11 29.71 931.36 26.66 932.54 24.63C933.71 22.6 934.76 21.62 936.05 19.47C937.34 17.32 939.57 13.02 940.28 11.73"/>
<path d="M969.36 11.73C970.07 13.21 972.1 17.91 973.59 20.64C975.07 23.38 976.71 25.73 978.28 28.15C979.84 30.57 981.8 32.45 982.97 35.19C984.14 37.92 984.53 39.1 985.32 44.57C986.1 50.04 986.68 59.04 987.66 68.03C988.64 77.02 989.81 87.18 991.18 98.52C992.55 109.86 994.31 124.33 995.87 136.05C997.44 147.78 999 158.73 1000.56 168.9C1002.13 179.06 1003.5 187.27 1005.25 197.04C1007.01 206.82 1009.16 218.74 1011.12 227.54C1013.07 236.34 1015.22 244.16 1016.98 249.82C1018.74 255.49 1020.31 259.01 1021.67 261.55C1023.04 264.09 1024.02 265.27 1025.19 265.07C1026.37 264.88 1027.34 264.29 1028.71 260.38C1030.08 256.47 1031.84 249.04 1033.4 241.61C1034.97 234.19 1036.53 225.19 1038.1 215.81C1039.66 206.43 1041.22 194.7 1042.79 185.32C1044.35 175.93 1045.91 166.94 1047.48 159.51C1049.04 152.08 1050.8 145.24 1052.17 140.75C1053.54 136.25 1054.79 134.1 1055.69 132.54C1056.59 130.97 1056.9 130.39 1057.57 131.36C1058.23 132.34 1058.82 132.93 1059.68 138.4C1060.54 143.87 1061.63 154.43 1062.73 164.2C1063.82 173.98 1065.27 188.44 1066.24 197.04C1067.22 205.65 1068 212.1 1068.59 215.81C1069.18 219.52 1069.25 220.11 1069.76 219.33C1070.27 218.55 1070.94 216.4 1071.64 211.12C1072.34 205.84 1073.2 195.09 1073.99 187.66C1074.77 180.23 1075.71 170.93 1076.33 166.55C1076.96 162.17 1077.07 162.09 1077.74 161.39C1078.4 160.68 1079.3 161.27 1080.32 162.33C1081.34 163.38 1082.22 165.08 1083.84 167.72C1085.45 170.37 1088.47 174.78 1090 178.2C1091.53 181.62 1092.01 184.57 1093.02 188.26C1094.02 191.94 1094.86 195.63 1096.03 200.32C1097.2 205.01 1098.55 210.71 1100.05 216.4C1101.56 222.1 1103.4 228.8 1105.08 234.5C1106.76 240.2 1108.43 245.56 1110.11 250.59C1111.78 255.61 1113.63 260.81 1115.13 264.66C1116.64 268.51 1117.98 271.66 1119.15 273.71C1120.33 275.75 1121.25 276.42 1122.17 276.93C1123.09 277.43 1123.76 277.34 1124.68 276.72C1125.61 276.1 1126.78 274.13 1127.7 273.21C1128.62 272.28 1129.26 271.61 1130.21 271.2C1131.17 270.78 1132.42 270.98 1133.43 270.69C1134.44 270.41 1135.27 270.32 1136.25 269.49C1137.22 268.65 1138.34 267.48 1139.26 265.67C1140.18 263.86 1140.94 261.48 1141.77 258.63C1142.61 255.78 1143.37 252.6 1144.29 248.58C1145.21 244.55 1146.3 239.19 1147.3 234.5C1148.31 229.81 1149.31 225.29 1150.32 220.43C1151.33 215.57 1152.33 209.87 1153.34 205.35C1154.34 200.82 1155.35 196.63 1156.35 193.28C1157.36 189.93 1158.45 187.12 1159.37 185.24C1160.29 183.36 1161.04 182.66 1161.88 182.02C1162.72 181.39 1163.14 181.39 1164.39 181.42C1165.65 181.45 1168.25 180.75 1169.42 182.22C1170.59 183.7 1170.76 186.92 1171.43 190.27C1172.1 193.62 1172.77 197.64 1173.44 202.33C1174.11 207.02 1174.78 213.05 1175.45 218.42C1176.12 223.78 1176.88 229.98 1177.46 234.5C1178.05 239.02 1178.47 242.63 1178.97 245.56C1179.47 248.49 1179.97 251.85 1180.48 252.09C1180.98 252.33 1181.53 249.85 1182 247C1182.47 244.15 1182.92 239.5 1183.3 235C1183.68 230.5 1183.98 225.83 1184.3 220C1184.62 214.17 1184.85 205.5 1185.2 200C1185.55 194.5 1185.98 191.38 1186.4 187C1186.82 182.62 1187.27 178.15 1187.7 173.7C1188.13 169.25 1188.55 164.77 1189 160.3C1189.45 155.83 1189.93 151.13 1190.4 146.9C1190.87 142.67 1191.33 138.47 1191.8 134.9C1192.27 131.33 1192.7 128.52 1193.2 125.5C1193.7 122.48 1194.2 119.93 1194.8 116.8C1195.4 113.67 1196.13 109.67 1196.8 106.7C1197.47 103.73 1198 101.78 1198.8 99C1199.6 96.22 1200.7 93 1201.6 90C1202.5 87 1203.32 84.28 1204.2 81C1205.08 77.72 1206 74.08 1206.9 70.3C1207.8 66.52 1208.7 62.1 1209.6 58.3C1210.5 54.5 1211.4 50.75 1212.3 47.5C1213.2 44.25 1214.12 41.25 1215 38.8C1215.88 36.35 1216.72 34.37 1217.6 32.8C1218.48 31.23 1219.28 30.18 1220.3 29.4C1221.32 28.62 1222.58 27.98 1223.7 28.1C1224.82 28.22 1226 28.65 1227 30.1C1228 31.55 1228.92 34 1229.7 36.8C1230.48 39.6 1231.03 42.98 1231.7 46.9C1232.37 50.82 1233.03 55.83 1233.7 60.3C1234.37 64.77 1235.03 69.23 1235.7 73.7C1236.37 78.17 1237.02 82.63 1237.7 87.1C1238.38 91.57 1239.17 96.35 1239.8 100.5C1240.43 104.65 1240.64 103.58 1241.5 112C1242.36 120.42 1243.62 138.6 1244.99 150.99C1246.36 163.39 1248.13 175.77 1249.71 186.38C1251.28 197 1252.85 206.44 1254.42 214.69C1256 222.95 1257.57 230.62 1259.14 235.93C1260.72 241.24 1262.29 243.87 1263.86 246.54C1265.43 249.22 1265.63 250.67 1268.58 251.97C1271.53 253.27 1277.82 254.01 1281.56 254.33C1285.29 254.64 1287.81 254.09 1290.99 253.86C1294.18 253.62 1297.52 252.91 1300.67 252.91C1303.81 252.91 1306.76 253.74 1309.87 253.86C1312.97 253.98 1316.55 253.78 1319.3 253.62C1322.06 253.46 1324.58 253.5 1326.38 252.91C1328.18 252.32 1329.01 252.13 1330.11 250.08C1331.21 248.04 1331.84 244.79 1332.99 240.65C1334.14 236.5 1335.35 234.3 1337 225.22C1338.65 216.13 1340.95 199.19 1342.9 186.15C1344.85 173.11 1346.75 160.04 1348.7 146.98C1350.65 133.93 1353.13 117.77 1354.6 107.82C1356.07 97.87 1356.71 92.52 1357.52 87.29C1358.34 82.06 1358.8 79.51 1359.51 76.44C1360.21 73.37 1360.95 70.7 1361.77 68.89C1362.59 67.08 1363.43 65.67 1364.41 65.59C1365.4 65.51 1366.14 65.78 1367.67 68.42C1369.2 71.05 1371.41 75.69 1373.57 81.39C1375.73 87.1 1378.48 94.57 1380.65 102.63C1382.81 110.69 1384.77 119.73 1386.54 129.76C1388.31 139.79 1389.69 149.42 1391.26 162.79C1392.84 176.16 1394.6 195.43 1395.98 209.97C1397.36 224.52 1398.54 240.25 1399.52 250.08C1400.5 259.91 1401.29 265.42 1401.88 268.96C1402.47 272.5 1402.59 272.1 1403.06 271.32C1403.53 270.53 1403.92 270.14 1404.71 264.24C1405.5 258.34 1406.68 246.54 1407.78 235.93C1408.88 225.31 1410.25 209.97 1411.32 200.54C1412.38 191.1 1413.28 184.61 1414.15 179.3C1415.01 174 1415.72 170.93 1416.51 168.69C1417.29 166.45 1417.69 165.74 1418.87 165.86C1420.05 165.97 1421.3 169.12 1423.58 169.4C1425.86 169.67 1429.48 168.41 1432.55 167.51C1435.62 166.6 1439.23 164.76 1441.99 163.97C1444.74 163.18 1446.71 162.59 1449.06 162.79C1451.42 162.99 1453.39 163.38 1456.14 165.15C1458.89 166.92 1462.83 170.85 1465.58 173.41C1468.33 175.96 1470.34 178.91 1472.66 180.48C1474.98 182.06 1478.36 182.45 1479.5 182.84"/>
<path d="M991.18 9.38C991.57 11.06 992.55 13.21 993.53 19.47C994.5 25.73 995.68 34.91 997.04 46.92C998.41 58.92 1000.17 77.41 1001.74 91.48C1003.3 105.56 1004.86 119.24 1006.43 131.36C1007.99 143.48 1009.56 155.02 1011.12 164.2C1012.68 173.39 1014.44 181.01 1015.81 186.49C1017.18 191.96 1018.35 194.89 1019.33 197.04C1020.31 199.19 1020.89 199.59 1021.67 199.39C1022.46 199.19 1023.04 199.39 1024.02 195.87C1025 192.35 1026.37 185.51 1027.54 178.28C1028.71 171.05 1029.89 162.25 1031.06 152.47C1032.23 142.7 1033.6 129.21 1034.58 119.63C1035.55 110.06 1036.26 100.75 1036.92 95C1037.59 89.26 1037.94 86.05 1038.56 85.15C1039.19 84.25 1039.78 87.69 1040.68 89.61C1041.57 91.52 1042.43 93.99 1043.96 96.65C1045.48 99.3 1048.06 102.9 1049.82 105.56C1051.58 108.22 1053.15 109.86 1054.52 112.6C1055.88 115.33 1056.86 119.44 1058.03 121.98C1059.21 124.52 1059.99 126.2 1061.55 127.84C1063.12 129.49 1065.66 130.66 1067.42 131.83C1069.18 133 1070.94 133.4 1072.11 134.88C1073.28 136.37 1073.83 138.2 1074.45 140.75C1075.08 143.29 1075.35 148.1 1075.86 150.13C1076.37 152.16 1076.57 152.36 1077.5 152.94C1078.44 153.53 1079.41 153.12 1081.49 153.65C1083.57 154.17 1087.58 155.01 1090 156.09C1092.42 157.16 1094.02 158.6 1096.03 160.11C1098.04 161.61 1100.05 163.29 1102.06 165.13C1104.07 166.98 1106.09 169.15 1108.1 171.17C1110.11 173.18 1112.12 175.44 1114.13 177.2C1116.14 178.96 1118.15 180.46 1120.16 181.72C1122.17 182.98 1124.18 183.95 1126.19 184.74C1128.2 185.52 1130.55 185.94 1132.22 186.45C1133.9 186.95 1135.16 187.45 1136.25 187.75C1137.33 188.05 1137.92 188.51 1138.76 188.26C1139.6 188 1140.43 187.42 1141.27 186.25C1142.11 185.07 1142.95 183.06 1143.79 181.22C1144.62 179.38 1145.46 176.69 1146.3 175.19C1147.14 173.68 1147.97 172.64 1148.81 172.17C1149.65 171.7 1150.4 172.04 1151.33 172.37C1152.25 172.71 1153.34 173.46 1154.34 174.18C1155.35 174.9 1156.35 175.77 1157.36 176.69C1158.36 177.62 1159.54 178.96 1160.37 179.71C1161.21 180.46 1161.38 180.88 1162.38 181.22C1163.39 181.55 1165.23 181.64 1166.4 181.72C1167.58 181.8 1168.25 181.89 1169.42 181.72C1170.59 181.55 1172.1 180.77 1173.44 180.72C1174.78 180.67 1176.29 181.17 1177.46 181.42C1178.64 181.67 1179.71 182.39 1180.48 182.22C1181.25 182.05 1181.6 181.59 1182.1 180.4C1182.6 179.21 1183.05 177.33 1183.5 175.1C1183.95 172.87 1184.37 170.02 1184.8 167C1185.23 163.98 1185.65 160.35 1186.1 157C1186.55 153.65 1187.05 150.25 1187.5 146.9C1187.95 143.55 1188.35 140.25 1188.8 136.9C1189.25 133.55 1189.75 130.15 1190.2 126.8C1190.65 123.45 1191.05 120.1 1191.5 116.8C1191.95 113.5 1192.38 110.13 1192.9 107C1193.42 103.87 1194.05 100.77 1194.6 98C1195.15 95.23 1195.38 94.45 1196.2 90.4C1197.02 86.35 1198.5 78.72 1199.5 73.7C1200.5 68.68 1201.3 64.55 1202.2 60.3C1203.1 56.05 1204.12 51.78 1204.9 48.2C1205.68 44.62 1206.23 41.82 1206.9 38.8C1207.57 35.78 1208.23 32.67 1208.9 30.1C1209.57 27.53 1210.33 24.97 1210.9 23.4C1211.47 21.83 1211.78 22.27 1212.3 20.7C1212.82 19.13 1213.72 15.12 1214 14"/>
<path d="M1190.4 146.9C1190.63 144.9 1191.33 138.47 1191.8 134.9C1192.27 131.33 1192.68 129.32 1193.2 125.5C1193.72 121.68 1194.07 117.28 1194.9 112C1195.73 106.72 1197.2 99.07 1198.2 93.8C1199.2 88.53 1200 84.87 1200.9 80.4C1201.8 75.93 1202.72 71.47 1203.6 67C1204.48 62.53 1205.42 57.52 1206.2 53.6C1206.98 49.68 1207.62 46.85 1208.3 43.5C1208.98 40.15 1209.7 36.52 1210.3 33.5C1210.9 30.48 1211.4 27.53 1211.9 25.4C1212.4 23.27 1212.78 22.6 1213.3 20.7C1213.82 18.8 1214.72 15.12 1215 14"/>
<path d="M1233.5 12C1233.7 13.45 1234.22 17.68 1234.7 20.7C1235.18 23.72 1235.83 26.3 1236.4 30.1C1236.97 33.9 1237.53 39.03 1238.1 43.5C1238.67 47.97 1239.25 52.43 1239.8 56.9C1240.35 61.37 1240.85 65.83 1241.4 70.3C1241.95 74.77 1242.53 79.23 1243.1 83.7C1243.67 88.17 1244.23 92.72 1244.8 97.1C1245.37 101.48 1245.49 98.66 1246.5 110C1247.51 121.34 1248.98 148.09 1250.89 165.15C1252.8 182.2 1256 200.54 1257.96 212.33C1259.93 224.13 1261.42 230.34 1262.68 235.93C1263.94 241.51 1264.65 243.95 1265.51 245.84C1266.38 247.72 1267.09 248.51 1267.87 247.25C1268.66 245.99 1269.52 240.76 1270.23 238.29C1270.94 235.81 1271.02 232.78 1272.12 232.39C1273.22 231.99 1275.26 234.55 1276.84 235.93C1278.41 237.3 1279.2 238.68 1281.56 240.65C1283.92 242.61 1287.81 245.91 1290.99 247.72C1294.18 249.53 1297.52 251.81 1300.67 251.5C1303.81 251.18 1306.76 247.96 1309.87 245.84C1312.97 243.71 1316.55 240.72 1319.3 238.76C1322.06 236.79 1324.73 235.22 1326.38 234.04C1328.03 232.86 1328.31 233.92 1329.21 231.68C1330.12 229.44 1330.85 224.92 1331.81 220.59C1332.77 216.27 1333.48 214.73 1334.99 205.73C1336.51 196.72 1339.09 179.62 1340.89 166.56C1342.69 153.51 1344.33 140.46 1345.8 127.4C1347.27 114.35 1348.64 98.46 1349.69 88.24C1350.74 78.01 1351.38 72.04 1352.1 66.06C1352.81 60.08 1353.36 55.84 1353.99 52.38C1354.61 48.92 1355.13 46.99 1355.87 45.3C1356.62 43.61 1357.29 41.52 1358.47 42.23C1359.65 42.94 1361.02 45.57 1362.95 49.54C1364.88 53.52 1367.47 58.59 1370.03 66.06C1372.58 73.53 1375.73 84.93 1378.29 94.37C1380.84 103.81 1383.4 113.24 1385.36 122.68C1387.33 132.12 1388.51 140.77 1390.08 150.99C1391.66 161.22 1393.42 175.37 1394.8 184.02C1396.18 192.67 1397.16 198.77 1398.34 202.9C1399.52 207.03 1400.7 208.8 1401.88 208.8C1403.06 208.8 1404.04 207.03 1405.42 202.9C1406.79 198.77 1408.76 189.13 1410.14 184.02C1411.51 178.91 1412.5 174.98 1413.68 172.23C1414.85 169.47 1415.56 167.98 1417.21 167.51C1418.87 167.04 1422.52 169.08 1423.58 169.4"/>
<path d="M1012.29 9.38C1012.68 11.06 1012.88 13.61 1014.64 19.47C1016.4 25.33 1020.11 36.67 1022.85 44.57C1025.58 52.47 1028.87 61.46 1031.06 66.85C1033.25 72.25 1034.81 74.87 1035.98 76.94C1037.16 79.01 1037.47 79.68 1038.1 79.29C1038.72 78.9 1039.15 78.04 1039.74 74.6C1040.32 71.15 1040.71 65.21 1041.61 58.64C1042.51 52.08 1043.96 40.86 1045.13 35.19C1046.31 29.52 1047.48 24.63 1048.65 24.63C1049.82 24.63 1051 29.52 1052.17 35.19C1053.34 40.86 1054.52 51.22 1055.69 58.64C1056.86 66.07 1057.64 75.06 1059.21 79.76C1060.77 84.45 1062.92 85.23 1065.07 86.79C1067.22 88.36 1070.04 88.55 1072.11 89.14C1074.18 89.73 1075.94 89.92 1077.5 90.31C1079.07 90.7 1079.65 89.73 1081.49 91.48C1083.33 93.24 1087.11 99.03 1088.53 100.87C1089.95 102.7 1088.75 101.05 1090 102.49C1091.25 103.93 1094.02 107.18 1096.03 109.53C1098.04 111.87 1100.05 114.22 1102.06 116.56C1104.07 118.91 1106.25 121.42 1108.1 123.6C1109.94 125.78 1111.61 128.13 1113.12 129.63C1114.63 131.14 1115.97 131.95 1117.14 132.65C1118.32 133.35 1118.99 133.66 1120.16 133.86C1121.33 134.06 1122.84 134.06 1124.18 133.86C1125.52 133.66 1127.03 132.88 1128.2 132.65C1129.38 132.42 1130.35 132.48 1131.22 132.45C1132.09 132.42 1132.93 132.33 1133.43 132.45C1133.93 132.57 1133.85 131.95 1134.23 133.15C1134.62 134.36 1135.16 137.26 1135.74 139.69C1136.33 142.12 1137.08 145.38 1137.75 147.73C1138.42 150.08 1139.01 152.34 1139.76 153.76C1140.52 155.19 1141.44 156.44 1142.28 156.28C1143.11 156.11 1143.95 154.85 1144.79 152.76C1145.63 150.66 1146.38 147.39 1147.3 143.71C1148.23 140.02 1149.4 134.83 1150.32 130.64C1151.24 126.45 1152.08 122.26 1152.83 118.58C1153.59 114.89 1154.17 111.04 1154.84 108.52C1155.51 106.01 1156.18 104.53 1156.85 103.5C1157.52 102.46 1158.19 101.95 1158.86 102.29C1159.54 102.62 1160.29 103.29 1160.88 105.51C1161.46 107.72 1161.88 112.21 1162.38 115.56C1162.89 118.91 1163.31 122.09 1163.89 125.61C1164.48 129.13 1165.15 132.99 1165.9 136.67C1166.66 140.36 1167.58 144.71 1168.42 147.73C1169.25 150.75 1170.17 153.34 1170.93 154.77C1171.68 156.19 1172.08 156.47 1172.94 156.28C1173.8 156.08 1175.02 155.71 1176.1 153.6C1177.18 151.49 1178.28 147.17 1179.4 143.6C1180.52 140.03 1181.68 136.12 1182.8 132.2C1183.92 128.28 1185.02 123.8 1186.1 120.1C1187.18 116.4 1188.33 113.85 1189.3 110C1190.27 106.15 1191.07 102 1191.9 97C1192.73 92 1193.58 85.33 1194.3 80C1195.02 74.67 1195.55 69.97 1196.2 65C1196.85 60.03 1197.65 54.12 1198.2 50.2C1198.75 46.28 1199 44.28 1199.5 41.5C1200 38.72 1200.52 35.95 1201.2 33.5C1201.88 31.05 1202.77 28.6 1203.6 26.8C1204.43 25 1205.42 23.72 1206.2 22.7C1206.98 21.68 1207.5 21.98 1208.3 20.7C1209.1 19.42 1210.55 15.95 1211 15"/>
<path d="M1062.26 9.38C1062.53 11.06 1063.23 15.17 1063.9 19.47C1064.56 23.77 1065.27 26.7 1066.24 35.19C1067.22 43.67 1068.59 58.64 1069.76 70.37C1070.94 82.1 1072.3 96.96 1073.28 105.56C1074.26 114.16 1074.92 118.66 1075.63 121.98C1076.33 125.3 1076.14 124.52 1077.5 125.5C1078.87 126.48 1081.76 127.24 1083.84 127.84C1085.92 128.45 1087.97 128.5 1090 129.13C1092.03 129.76 1094.02 130.64 1096.03 131.64C1098.04 132.65 1100.05 133.82 1102.06 135.16C1104.07 136.5 1106.25 138.1 1108.1 139.69C1109.94 141.28 1111.61 143.04 1113.12 144.71C1114.63 146.39 1115.97 148.07 1117.14 149.74C1118.32 151.42 1119.15 153.06 1120.16 154.77C1121.17 156.48 1122.34 157.76 1123.18 159.99C1124.01 162.23 1124.18 165.95 1125.19 168.15C1126.19 170.35 1128.03 172.09 1129.21 173.18C1130.38 174.26 1131.39 174.43 1132.22 174.68C1133.06 174.94 1133.48 175.02 1134.23 174.68C1134.99 174.35 1135.83 173.76 1136.75 172.67C1137.67 171.58 1138.93 169.41 1139.76 168.15C1140.6 166.89 1141.1 165.72 1141.77 165.13C1142.44 164.55 1143.11 164.43 1143.79 164.63C1144.46 164.83 1145.04 165.95 1145.8 166.34C1146.55 166.72 1147.56 167.14 1148.31 166.94C1149.06 166.74 1149.65 166.27 1150.32 165.13C1150.99 163.99 1151.66 162.28 1152.33 160.11C1153 157.93 1153.67 154.91 1154.34 152.06C1155.01 149.22 1155.68 145.75 1156.35 143.02C1157.02 140.28 1157.61 139.07 1158.36 135.67C1159.12 132.26 1160.12 126.79 1160.88 122.6C1161.63 118.41 1162.13 114.55 1162.89 110.53C1163.64 106.51 1164.65 101.48 1165.4 98.47C1166.15 95.45 1166.74 93.78 1167.41 92.44C1168.08 91.1 1168.75 90.43 1169.42 90.43C1170.09 90.43 1170.85 91.1 1171.43 92.44C1172.02 93.78 1172.35 95.96 1172.94 98.47C1173.53 100.98 1174.28 104.5 1174.95 107.52C1175.62 110.53 1176.29 114.05 1176.96 116.56C1177.63 119.08 1178.39 121.34 1178.97 122.6C1179.56 123.85 1179.84 124.3 1180.48 124.1C1181.12 123.91 1182.08 122.85 1182.8 121.4C1183.52 119.95 1184.17 117.63 1184.8 115.4C1185.43 113.17 1186.03 111.05 1186.6 108C1187.17 104.95 1187.6 101.7 1188.2 97.1C1188.8 92.5 1189.53 85.98 1190.2 80.4C1190.87 74.82 1191.6 68.63 1192.2 63.6C1192.8 58.57 1193.3 54.1 1193.8 50.2C1194.3 46.3 1194.68 43.1 1195.2 40.2C1195.72 37.3 1196.18 35.03 1196.9 32.8C1197.62 30.57 1198.5 28.58 1199.5 26.8C1200.5 25.02 1202.12 23.12 1202.9 22.1C1203.68 21.08 1203.52 21.72 1204.2 20.7C1204.88 19.68 1206.53 16.78 1207 16"/>
<path d="M1068.12 9.38C1068.39 11.06 1068.9 15.95 1069.76 19.47C1070.62 22.99 1071.99 27.88 1073.28 30.49C1074.57 33.11 1075.74 34.33 1077.5 35.19C1079.26 36.05 1081.76 35.66 1083.84 35.66C1085.92 35.65 1087.97 34.55 1090 35.13C1092.03 35.72 1094.02 37.14 1096.03 39.15C1098.04 41.17 1100.05 44.01 1102.06 47.2C1104.07 50.38 1106.09 54.07 1108.1 58.26C1110.11 62.44 1112.12 67.81 1114.13 72.33C1116.14 76.85 1118.32 81.55 1120.16 85.4C1122 89.25 1123.68 92.77 1125.19 95.45C1126.69 98.13 1128.03 100.06 1129.21 101.48C1130.38 102.91 1131.47 103.53 1132.22 104C1132.98 104.47 1133.23 104.89 1133.73 104.3C1134.23 103.71 1134.74 103.13 1135.24 100.48C1135.74 97.83 1136.25 93.11 1136.75 88.42C1137.25 83.72 1137.75 77.86 1138.26 72.33C1138.76 66.8 1139.26 60.94 1139.76 55.24C1140.27 49.54 1140.85 43.18 1141.27 38.15C1141.69 33.12 1142.03 27.96 1142.28 25.08C1142.53 22.2 1142.61 22.53 1142.78 20.86C1142.95 19.18 1143.2 16 1143.28 15.03"/>
<path d="M1163 14C1163.17 15.12 1163.38 17.45 1164 20.7C1164.62 23.95 1165.8 29.47 1166.7 33.5C1167.6 37.53 1168.62 41.78 1169.4 44.9C1170.18 48.02 1170.68 50.58 1171.4 52.2C1172.12 53.82 1172.8 54.6 1173.7 54.6C1174.6 54.6 1175.52 53.6 1176.8 52.2C1178.08 50.8 1179.73 48.43 1181.4 46.2C1183.07 43.97 1185.12 41.15 1186.8 38.8C1188.48 36.45 1190.27 34.1 1191.5 32.1C1192.73 30.1 1193.47 28.7 1194.2 26.8C1194.93 24.9 1195.43 22.83 1195.9 20.7C1196.37 18.57 1196.82 15.12 1197 14"/>
<path d="M1377.81 9.44C1378.09 11.13 1378.6 13.29 1379.47 19.58C1380.33 25.87 1381.63 37.87 1383 47.19C1384.38 56.5 1385.76 66.45 1387.72 75.5C1389.69 84.54 1392.84 95.16 1394.8 101.45C1396.77 107.74 1397.95 109.9 1399.52 113.24C1401.09 116.59 1402.67 121.9 1404.24 121.5C1405.81 121.11 1407.38 116.59 1408.96 110.89C1410.53 105.18 1412.3 95.16 1413.68 87.29C1415.05 79.43 1416.11 69.8 1417.21 63.7C1418.32 57.61 1419.46 52.1 1420.28 50.72C1421.11 49.35 1421.62 53.59 1422.17 55.44C1422.72 57.29 1421.85 60.24 1423.58 61.81C1425.31 63.39 1429.48 62.6 1432.55 64.88C1435.62 67.16 1438.45 70.97 1441.99 75.5C1445.53 80.02 1449.85 86.9 1453.78 92.01C1457.71 97.12 1462.04 102.71 1465.58 106.17C1469.12 109.63 1472.7 111.51 1475.02 112.77C1477.34 114.03 1478.75 113.56 1479.5 113.72"/>
<path d="M1378.76 9.44C1379.07 11.13 1379.54 12.11 1380.65 19.58C1381.75 27.05 1383.4 42.58 1385.36 54.26C1387.33 65.94 1390.08 79.43 1392.44 89.65C1394.8 99.88 1397.16 108.53 1399.52 115.6C1401.88 122.68 1404.63 128.19 1406.6 132.12C1408.56 136.05 1409.94 139.98 1411.32 139.2C1412.69 138.41 1413.75 134.87 1414.85 127.4C1415.96 119.93 1417.06 104.99 1417.92 94.37C1418.79 83.75 1419.49 70.86 1420.05 63.7C1420.6 56.54 1421.03 53.48 1421.22 51.43"/>
<path d="M1413.68 14.16C1414.07 15.53 1415.05 20.05 1416.03 22.41C1417.02 24.77 1418.47 28.19 1419.57 28.31C1420.67 28.43 1420.48 24.38 1422.64 23.12C1424.8 21.86 1430.11 22.26 1432.55 20.76C1434.99 19.27 1436.48 15.26 1437.27 14.16"/>
<path d="M1344.08 14.16C1344.67 15.41 1346.44 21.71 1347.62 21.71C1348.8 21.71 1350.56 15.41 1351.15 14.16"/>
<path d="M816.89 289.38C817.4 291.73 818.84 296.03 819.94 303.46C821.03 310.89 822.28 323.01 823.46 333.95C824.63 344.9 825.8 357.41 826.98 369.14C828.15 380.87 829.81 397.52 830.49 404.33C831.18 411.14 830.75 407.37 831.1 410C831.45 412.63 832.02 416.25 832.6 420.1C833.18 423.95 833.93 429.25 834.6 433.1C835.27 436.95 835.92 440.43 836.6 443.2C837.28 445.97 838.02 448.37 838.7 449.7C839.38 451.03 839.95 451.45 840.7 451.2C841.45 450.95 842.28 450.03 843.2 448.2C844.12 446.37 845.2 443.22 846.2 440.2C847.2 437.18 848.2 433.45 849.2 430.1C850.2 426.75 851.2 422.95 852.2 420.1C853.2 417.25 854.27 414.97 855.2 413C856.13 411.03 856.92 409.77 857.8 408.3C858.68 406.83 859.55 405.13 860.5 404.2C861.45 403.27 862.5 402.7 863.5 402.7C864.5 402.7 865.63 403.48 866.5 404.2C867.37 404.92 868.07 406.03 868.7 407C869.33 407.97 869.37 408.33 870.3 410C871.23 411.67 872.95 413.98 874.3 417C875.65 420.02 877.05 423.73 878.4 428.1C879.75 432.47 881.07 437.83 882.4 443.2C883.73 448.57 885.07 454.43 886.4 460.3C887.73 466.17 889.07 472.37 890.4 478.4C891.73 484.43 893.05 490.13 894.4 496.5C895.75 502.87 897.32 510.4 898.5 516.6C899.68 522.8 900.5 527.83 901.5 533.7C902.5 539.57 903.75 547.42 904.5 551.8C905.25 556.18 905.75 558.63 906 560"/>
<path d="M816.89 401.98C817.12 403.54 818.03 410.03 818.3 411.36C818.57 412.7 818.12 408.54 818.5 410C818.88 411.46 819.92 416.25 820.6 420.1C821.28 423.95 821.85 428.08 822.6 433.1C823.35 438.12 824.43 445.33 825.1 450.2C825.77 455.07 826.1 458.12 826.6 462.3C827.1 466.48 827.6 470.95 828.1 475.3C828.6 479.65 829.02 484.2 829.6 488.4C830.18 492.6 830.85 496.48 831.6 500.5C832.35 504.52 833.27 508.48 834.1 512.5C834.93 516.52 835.75 520.73 836.6 524.6C837.45 528.47 838.43 532.85 839.2 535.7C839.97 538.55 840.37 539.87 841.2 541.7C842.03 543.53 843.03 545.37 844.2 546.7C845.37 548.03 846.87 548.85 848.2 549.7C849.53 550.55 850.9 551.08 852.2 551.8C853.5 552.52 855.37 553.63 856 554"/>
<path d="M816.9 443C817.43 443.28 819.15 443.67 820.1 444.7C821.05 445.73 821.85 447.28 822.6 449.2C823.35 451.12 823.93 453.85 824.6 456.2C825.27 458.55 825.93 460.95 826.6 463.3C827.27 465.65 827.93 468.12 828.6 470.3C829.27 472.48 829.93 474.38 830.6 476.4C831.27 478.42 831.93 480.48 832.6 482.4C833.27 484.32 833.85 486.65 834.6 487.9C835.35 489.15 836.17 489.4 837.1 489.9C838.03 490.4 839.18 490.4 840.2 490.9C841.22 491.4 842.2 491.8 843.2 492.9C844.2 494 845.03 495.57 846.2 497.5C847.37 499.43 848.87 502.17 850.2 504.5C851.53 506.83 852.85 509.07 854.2 511.5C855.55 513.93 857.12 516.58 858.3 519.1C859.48 521.62 860.3 523.83 861.3 526.6C862.3 529.37 863.47 532.85 864.3 535.7C865.13 538.55 865.72 541.02 866.3 543.7C866.88 546.38 867.35 549.42 867.8 551.8C868.25 554.18 868.8 556.97 869 558"/>
<path d="M816.9 537.4C817.6 537.2 819.73 536.82 821.1 536.2C822.47 535.58 823.85 534.63 825.1 533.7C826.35 532.77 827.6 531.28 828.6 530.6C829.6 529.92 830.35 529.6 831.1 529.6C831.85 529.6 832.52 529.42 833.1 530.6C833.68 531.78 834.1 534.52 834.6 536.7C835.1 538.88 835.52 541.18 836.1 543.7C836.68 546.22 837.53 549.42 838.1 551.8C838.67 554.18 839.27 556.97 839.5 558"/>
<path d="M816.9 549.2C817.93 549.2 821.23 549.03 823.1 549.2C824.97 549.37 826.6 549.77 828.1 550.2C829.6 550.63 830.78 551.17 832.1 551.8C833.42 552.43 835.35 553.63 836 554"/>
<path d="M1002.21 561.49C1002.44 560.12 1002.52 563.06 1003.61 553.28C1004.71 543.51 1007.13 519.07 1008.77 502.85C1010.42 486.62 1011.9 471.18 1013.46 455.93C1015.03 440.68 1016.79 421.92 1018.16 411.36C1019.52 400.81 1020.7 396.51 1021.67 392.6C1022.65 388.69 1023.24 387.91 1024.02 387.91C1024.8 387.91 1025.39 388.3 1026.37 392.6C1027.34 396.9 1028.52 403.15 1029.89 413.71C1031.25 424.26 1033.01 441.08 1034.58 455.93C1036.14 470.79 1037.51 486.62 1039.27 502.85C1041.03 519.07 1044 543.51 1045.13 553.28C1046.27 563.06 1045.91 560.12 1046.07 561.49"/>
<path d="M1045.37 561.49C1045.52 560.12 1045.17 565.01 1046.31 553.28C1047.44 541.55 1050.22 513.21 1052.17 491.12C1054.12 469.03 1056.27 442.25 1058.03 420.75C1059.79 399.24 1061.36 378.91 1062.73 362.1C1064.09 345.29 1065.27 329.65 1066.24 319.88C1067.22 310.1 1068 306.78 1068.59 303.46C1069.18 300.13 1069.33 300.02 1069.76 299.94C1070.19 299.86 1070.66 301.42 1071.17 302.99C1071.68 304.55 1072.19 306.51 1072.81 309.32C1073.44 312.14 1074.14 316.75 1074.92 319.88C1075.71 323.01 1076.41 326.72 1077.5 328.09C1078.6 329.46 1079.65 328.28 1081.49 328.09C1083.33 327.89 1085.4 328.28 1088.53 326.92C1091.66 325.55 1096.74 323.01 1100.26 319.88C1103.78 316.75 1106.9 312.06 1109.64 308.15C1112.38 304.24 1114.72 299.31 1116.68 296.42C1118.63 293.53 1120.12 291.96 1121.37 290.79C1122.62 289.62 1123.01 289.46 1124.18 289.38C1125.36 289.3 1126.73 289.85 1128.41 290.32C1130.09 290.79 1132.71 291.1 1134.27 292.2C1135.84 293.29 1136.73 294.43 1137.79 296.89C1138.85 299.35 1139.63 301.97 1140.61 306.98C1141.58 311.98 1142.64 318.9 1143.65 326.92C1144.67 334.93 1145.65 345.29 1146.7 355.06C1147.76 364.84 1148.94 376.64 1149.99 385.56C1151.03 394.48 1151.89 401.79 1152.98 408.58C1154.06 415.37 1155.34 421.75 1156.51 426.27C1157.69 430.8 1159.07 433.75 1160.05 435.71C1161.04 437.68 1161.51 437.99 1162.41 438.07C1163.32 438.15 1164.42 438.54 1165.48 436.18C1166.54 433.82 1167.6 430.68 1168.78 423.92C1169.96 417.15 1171.38 405.04 1172.56 395.6C1173.74 386.17 1174.88 375.16 1175.86 367.29C1176.84 359.43 1177.67 352.55 1178.46 348.42C1179.24 344.29 1179.91 342.32 1180.58 342.52C1181.25 342.72 1181.76 344.29 1182.47 349.6C1183.17 354.91 1184.04 365.52 1184.83 374.37C1185.61 383.22 1186.2 391.67 1187.19 402.68C1188.17 413.69 1189.54 428.24 1190.72 440.43C1191.9 452.62 1192.89 464.81 1194.26 475.82C1195.64 486.83 1197.21 497.45 1198.98 506.49C1200.75 515.53 1202.91 523.4 1204.88 530.08C1206.85 536.77 1209.4 542.74 1210.78 546.6C1212.15 550.45 1212.35 551.04 1213.14 553.2C1213.92 555.37 1215.1 558.51 1215.5 559.57"/>
<path d="M1054.52 561.49C1054.71 560.12 1054.71 559.15 1055.69 553.28C1056.67 547.42 1058.82 535.1 1060.38 526.31C1061.94 517.51 1063.51 507.93 1065.07 500.5C1066.64 493.07 1068.2 486.62 1069.76 481.74C1071.33 476.85 1073.16 473.33 1074.45 471.18C1075.74 469.03 1075.16 469.42 1077.5 468.83C1079.85 468.25 1085.13 468.64 1088.53 467.66C1091.93 466.68 1094.78 466.1 1097.91 462.97C1101.04 459.84 1104.17 454.76 1107.3 448.9C1110.42 443.03 1113.55 434.43 1116.68 427.78C1119.81 421.14 1123.32 413.32 1126.06 409.02C1128.8 404.72 1130.75 401.59 1133.1 401.98C1135.44 402.37 1137.79 406.67 1140.14 411.36C1142.48 416.05 1145.53 426.22 1147.17 430.13C1148.82 434.04 1148.82 433.5 1149.99 434.82C1151.15 436.14 1152.67 437.33 1154.16 438.07C1155.64 438.81 1157.3 439.25 1158.87 439.25C1160.45 439.25 1162.22 439.05 1163.59 438.07C1164.97 437.09 1165.95 436.5 1167.13 433.35C1168.31 430.21 1169.29 425.49 1170.67 419.2C1172.05 412.91 1174.01 402.29 1175.39 395.6C1176.77 388.92 1177.75 382.63 1178.93 379.09C1180.11 375.55 1181.48 373.98 1182.47 374.37C1183.45 374.76 1184.04 377.12 1184.83 381.45C1185.61 385.77 1186.2 392.07 1187.19 400.32C1188.17 408.58 1189.35 419.59 1190.72 430.99C1192.1 442.4 1193.87 457.34 1195.44 468.74C1197.02 480.14 1198.39 489.97 1200.16 499.41C1201.93 508.85 1204.09 517.89 1206.06 525.36C1208.03 532.84 1210.38 539.6 1211.96 544.24C1213.53 548.88 1214.43 550.45 1215.5 553.2C1216.56 555.96 1217.86 559.49 1218.33 560.75"/>
<path d="M1068.82 561.49C1068.98 560.12 1069.22 557.97 1069.76 553.28C1070.31 548.59 1071.21 540.38 1072.11 533.34C1073.01 526.31 1074.26 515.75 1075.16 511.06C1076.06 506.37 1076.06 506.56 1077.5 505.19C1078.95 503.83 1081.22 505.19 1083.84 502.85C1086.46 500.5 1089.7 496.2 1093.22 491.12C1096.74 486.04 1101.04 478.22 1104.95 472.35C1108.86 466.49 1113.16 460.43 1116.68 455.93C1120.2 451.44 1123.32 447.72 1126.06 445.38C1128.8 443.03 1130.36 442.25 1133.1 441.86C1135.84 441.47 1139.67 442.25 1142.48 443.03C1145.3 443.81 1148.44 445.41 1149.99 446.55C1151.54 447.69 1150.91 446.56 1151.8 449.87C1152.69 453.17 1154.16 461.27 1155.34 466.38C1156.51 471.49 1157.69 476.61 1158.87 480.54C1160.05 484.47 1161.23 487.22 1162.41 489.97C1163.59 492.73 1164.58 494.3 1165.95 497.05C1167.33 499.81 1169.1 502.95 1170.67 506.49C1172.24 510.03 1173.82 514.35 1175.39 518.29C1176.96 522.22 1178.53 526.15 1180.11 530.08C1181.68 534.01 1183.06 538.03 1184.83 541.88C1186.6 545.73 1189.23 550.25 1190.72 553.2C1192.22 556.15 1193.28 558.51 1193.79 559.57"/>
<path d="M1106.12 561.49C1106.71 560.12 1108.27 556.41 1109.64 553.28C1111.01 550.15 1112.77 545.66 1114.33 542.73C1115.9 539.79 1117.46 537.06 1119.02 535.69C1120.59 534.32 1122.15 534.32 1123.72 534.52C1125.28 534.71 1126.84 536.27 1128.41 536.86C1129.97 537.45 1131.53 538.43 1133.1 538.03C1134.66 537.64 1135.84 536.86 1137.79 534.52C1139.75 532.17 1142.79 527.28 1144.83 523.96C1146.86 520.64 1148.43 517.88 1149.99 514.58C1151.54 511.27 1152.48 508.23 1154.16 504.13C1155.83 500.03 1158.28 493.91 1160.05 489.97C1161.82 486.04 1163.2 482.7 1164.77 480.54C1166.35 478.38 1168.11 477.67 1169.49 477C1170.87 476.33 1171.65 475.54 1173.03 476.53C1174.41 477.51 1176.18 479.48 1177.75 482.9C1179.32 486.32 1180.89 491.55 1182.47 497.05C1184.04 502.56 1185.81 509.64 1187.19 515.93C1188.56 522.22 1189.54 528.59 1190.72 534.8C1191.9 541.01 1193.44 548.88 1194.26 553.2C1195.09 557.53 1195.44 559.49 1195.68 560.75"/>
<path d="M1124.89 557.97C1125.48 557.19 1126.96 554.65 1128.41 553.28C1129.85 551.91 1131.61 549.76 1133.57 549.76C1135.52 549.76 1138.45 551.91 1140.14 553.28C1141.82 554.65 1143.07 557.19 1143.65 557.97"/>
<path d="M1384.42 560.75C1384.58 559.49 1384.42 561.46 1385.36 553.2C1386.31 544.95 1388.51 526.86 1390.08 511.21C1391.66 495.56 1393.23 477.39 1394.8 459.3C1396.37 441.22 1398.34 416.84 1399.52 402.68C1400.7 388.53 1401.29 380.98 1401.88 374.37C1402.47 367.76 1402.59 363.83 1403.06 363.05C1403.53 362.26 1404.12 366.19 1404.71 369.65C1405.3 373.11 1405.69 376.73 1406.6 383.81C1407.5 390.89 1408.96 402.68 1410.14 412.12C1411.32 421.56 1412.5 432.57 1413.68 440.43C1414.85 448.29 1416.03 454.98 1417.21 459.3C1418.39 463.63 1419.69 465.01 1420.75 466.38C1421.81 467.76 1421.22 467.96 1423.58 467.56C1425.94 467.17 1431.06 465.79 1434.91 464.02C1438.76 462.25 1442.77 459.7 1446.71 456.95C1450.64 454.19 1454.57 450.46 1458.5 447.51C1462.43 444.56 1466.8 441.22 1470.3 439.25C1473.8 437.28 1477.97 436.3 1479.5 435.71"/>
<path d="M1379.7 560.75C1379.86 559.49 1379.7 561.07 1380.65 553.2C1381.59 545.34 1383.59 528.43 1385.36 513.57C1387.13 498.7 1389.3 480.54 1391.26 464.02C1393.23 447.51 1395.67 427.06 1397.16 414.48C1398.65 401.9 1399.44 394.03 1400.23 388.53C1401.01 383.02 1401.29 381.84 1401.88 381.45C1402.47 381.06 1403.18 384.2 1403.77 386.17C1404.36 388.13 1404.55 388.13 1405.42 393.24C1406.28 398.36 1407.78 408.19 1408.96 416.84C1410.14 425.49 1411.51 437.28 1412.5 445.15C1413.48 453.01 1413.87 459.3 1414.85 464.02C1415.84 468.74 1417.33 472.48 1418.39 473.46C1419.46 474.44 1420.36 470.9 1421.22 469.92C1422.09 468.94 1423.19 467.96 1423.58 467.56"/>
<path d="M1405.18 560.75C1405.42 559.49 1405.58 557.53 1406.6 553.2C1407.62 548.88 1409.94 539.24 1411.32 534.8C1412.69 530.36 1413.68 526.54 1414.85 526.54C1416.03 526.54 1417.21 530.36 1418.39 534.8C1419.57 539.24 1421.15 548.88 1421.93 553.2C1422.72 557.53 1422.92 559.49 1423.11 560.75"/>
<path d="M1439.63 560.75C1440.41 559.49 1442.38 555.96 1444.35 553.2C1446.31 550.45 1449.06 548.09 1451.42 544.24C1453.78 540.38 1456.14 535.19 1458.5 530.08C1460.86 524.97 1463.61 518.29 1465.58 513.57C1467.55 508.85 1468.72 505.31 1470.3 501.77C1471.87 498.23 1473.48 494.5 1475.02 492.33C1476.55 490.17 1478.75 489.39 1479.5 488.8"/>
</g>
<path d="M816.9 486.57h5.2M1479.6 486.57h-5.2M816.9 419.85h10.2M1479.6 419.85h-10.2M816.9 353.12h5.2M1479.6 353.12h-5.2M816.9 286.4h10.2M1479.6 286.4h-10.2M816.9 219.67h5.2M1479.6 219.67h-5.2M816.9 152.95h10.2M1479.6 152.95h-10.2M816.9 86.23h5.2M1479.6 86.23h-5.2" stroke="#111312" stroke-width="2.8" fill="none"/>
<rect x="816.9" y="19.5" width="662.7" height="533.8" fill="none" stroke="#111312" stroke-width="2.9"/>
<text x="806" y="29.1" font-size="33" text-anchor="end" class="s">1.0</text>
<text x="806" y="162.55" font-size="33" text-anchor="end" class="s">0.5</text>
<text x="806" y="296" font-size="33" text-anchor="end" class="s">0.0</text>
<text x="806" y="429.45" font-size="33" text-anchor="end" class="s">-0.5</text>
<text x="806" y="562.9" font-size="33" text-anchor="end" class="s">-1.0</text>
<text transform="translate(734.6,390) rotate(-90)" font-size="39" class="s">Energy (eV)</text>
<text x="818.3" y="584.7" font-size="34" text-anchor="middle" class="r">Γ</text>
<text x="957.2" y="584.3" font-size="33.5" text-anchor="middle" class="s">S</text>
<text x="1078.8" y="584.7" font-size="33.5" text-anchor="middle" class="s">Z</text>
<text x="1136.5" y="585.8" font-size="34" text-anchor="middle" class="r">Γ</text>
<text x="1165.2" y="586.4" font-size="33.5" text-anchor="middle" class="s">Y</text>
<text x="1306.3" y="586.8" font-size="33.5" text-anchor="middle" class="s">R</text>
<text x="1427.2" y="587.1" font-size="33.5" text-anchor="middle" class="s">T</text>
<text x="1483.5" y="587.3" font-size="33.5" text-anchor="middle" class="s">Y</text>
<text x="676" y="37.5" font-size="52" class="s">(b)</text>
</g>
<g id="pc">
<path d="M352.8 945.6C354.85 945.95 361.37 947.18 365.1 947.7C368.83 948.22 371.85 948.33 375.2 948.7C378.55 949.07 382.18 949.48 385.2 949.9C388.22 950.32 390.62 950.57 393.3 951.2C395.98 951.83 398.8 952.62 401.3 953.7C403.8 954.78 405.95 956.2 408.3 957.7C410.65 959.2 413.05 960.68 415.4 962.7C417.75 964.72 420.07 967.2 422.4 969.8C424.73 972.4 427.22 975.37 429.4 978.3C431.58 981.23 433.65 984.38 435.5 987.4C437.35 990.42 438.83 993.22 440.5 996.4C442.17 999.58 443.82 1003.07 445.5 1006.5C447.18 1009.93 448.92 1013.4 450.6 1017C452.28 1020.6 453.93 1024.42 455.6 1028.1C457.27 1031.78 458.93 1035.42 460.6 1039.1C462.27 1042.78 463.92 1046.52 465.6 1050.2C467.28 1053.88 469.18 1057.9 470.7 1061.2C472.22 1064.5 473.27 1066.82 474.7 1070C476.13 1073.18 477.85 1077.05 479.3 1080.3C480.75 1083.55 482.05 1086.5 483.4 1089.5C484.75 1092.5 485.98 1095.27 487.4 1098.3C488.82 1101.33 490.4 1104.77 491.9 1107.7C493.4 1110.63 494.88 1113.27 496.4 1115.9C497.92 1118.53 499.4 1121.07 501 1123.5C502.6 1125.93 503.93 1127.72 506 1130.5C508.07 1133.28 510.93 1137.08 513.4 1140.2C515.87 1143.32 518.9 1146.91 520.8 1149.24C522.7 1151.56 523.47 1152.57 524.8 1154.16C526.13 1155.75 527.47 1157.29 528.8 1158.79C530.13 1160.29 531.47 1161.75 532.8 1163.17C534.13 1164.6 535.47 1165.98 536.8 1167.34C538.13 1168.7 539.47 1170.02 540.8 1171.32C542.13 1172.62 543.47 1173.9 544.8 1175.15C546.13 1176.4 547.47 1177.63 548.8 1178.84C550.13 1180.04 551.47 1181.23 552.8 1182.39C554.13 1183.55 555.6 1184.79 556.8 1185.81C558 1186.82 557.8 1186.71 560 1188.45C562.2 1190.18 566.67 1193.74 570 1196.21C573.33 1198.69 576.67 1201.03 580 1203.29C583.33 1205.55 586.67 1207.7 590 1209.77C593.33 1211.84 596.67 1213.81 600 1215.71C603.33 1217.62 606.67 1219.44 610 1221.22C613.33 1222.99 616.67 1224.69 620 1226.36C623.33 1228.02 626.67 1229.63 630 1231.21C633.33 1232.8 636.67 1234.34 640 1235.85C643.33 1237.37 646.67 1238.85 650 1240.29C653.33 1241.74 656.67 1243.16 660 1244.54C663.33 1245.92 666.67 1247.28 670 1248.6C673.33 1249.92 676.67 1251.21 680 1252.47C683.33 1253.73 686.67 1254.96 690 1256.17C693.33 1257.37 696.67 1258.54 700 1259.69C703.33 1260.83 706.67 1261.95 710 1263.04C713.33 1264.12 716.67 1265.19 720 1266.22C723.33 1267.26 726.67 1268.26 730 1269.24C733.33 1270.23 736.67 1271.18 740 1272.11C743.33 1273.04 746.67 1273.95 750 1274.83C753.33 1275.71 756.67 1276.57 760 1277.4C763.33 1278.23 766.67 1279.04 770 1279.83C773.33 1280.61 776.67 1281.38 780 1282.12C783.33 1282.86 786.67 1283.57 790 1284.27C793.33 1284.96 794.17 1285.2 800 1286.28C805.83 1287.36 816.67 1289.39 825 1290.75C833.33 1292.12 841.67 1293.34 850 1294.45C858.33 1295.56 866.67 1296.54 875 1297.42C883.33 1298.29 891.67 1299.05 900 1299.7C908.33 1300.35 916.67 1300.9 925 1301.35C933.33 1301.8 941.67 1302.14 950 1302.4C958.33 1302.66 966.67 1302.82 975 1302.91C983.33 1303 991.67 1302.99 1000 1302.92C1008.33 1302.85 1016.67 1302.69 1025 1302.48C1033.33 1302.26 1041.67 1301.97 1050 1301.63C1058.33 1301.28 1066.67 1300.87 1075 1300.41C1083.33 1299.96 1091.67 1299.44 1100 1298.89C1108.33 1298.33 1116.67 1297.73 1125 1297.09C1133.33 1296.45 1141.67 1295.77 1150 1295.07C1158.33 1294.37 1166.67 1293.62 1175 1292.87C1183.33 1292.12 1191.67 1291.33 1200 1290.54C1208.33 1289.75 1220.48 1288.56 1225 1288.13C1229.52 1287.69 1226.75 1287.95 1227.1 1287.92" fill="none" stroke="#df2d1f" stroke-width="3.7" stroke-linecap="round" stroke-linejoin="round"/>
<path d="M352.8 721.6C354.52 721.67 359.72 721.87 363.1 722C366.48 722.13 369.75 722.08 373.1 722.4C376.45 722.72 380.18 723.2 383.2 723.9C386.22 724.6 388.68 725.47 391.2 726.6C393.72 727.73 396.12 729.1 398.3 730.7C400.48 732.3 402.47 734.2 404.3 736.2C406.13 738.2 407.62 740.27 409.3 742.7C410.98 745.13 412.8 747.95 414.4 750.8C416 753.65 417.4 756.45 418.9 759.8C420.4 763.15 421.98 767.3 423.4 770.9C424.82 774.5 426.13 777.88 427.4 781.4C428.67 784.92 429.82 788.3 431 792C432.18 795.7 433.33 799.58 434.5 803.6C435.67 807.62 436.83 811.75 438 816.1C439.17 820.45 440.42 825.42 441.5 829.7C442.58 833.98 443.2 836.73 444.5 841.8C445.8 846.87 447.58 853.7 449.3 860.1C451.02 866.5 452.97 873.5 454.8 880.2C456.63 886.9 458.5 893.6 460.3 900.3C462.1 907 463.77 913.7 465.6 920.4C467.43 927.1 469.35 933.8 471.3 940.5C473.25 947.2 475.28 953.9 477.3 960.6C479.32 967.3 481.9 975.77 483.4 980.7C484.9 985.63 484.73 985.3 486.3 990.2C487.87 995.1 491.05 1004.94 492.8 1010.09C494.55 1015.24 495.47 1017.55 496.8 1021.09C498.13 1024.63 499.47 1028.04 500.8 1031.33C502.13 1034.62 503.47 1037.78 504.8 1040.84C506.13 1043.9 507.47 1046.83 508.8 1049.68C510.13 1052.52 511.47 1055.25 512.8 1057.9C514.13 1060.55 515.47 1063.09 516.8 1065.56C518.13 1068.03 519.47 1070.41 520.8 1072.72C522.13 1075.02 523.47 1077.25 524.8 1079.42C526.13 1081.59 527.47 1083.68 528.8 1085.72C530.13 1087.77 531.47 1089.75 532.8 1091.69C534.13 1093.63 535.47 1095.51 536.8 1097.36C538.13 1099.22 539.47 1101.02 540.8 1102.81C542.13 1104.59 543.47 1106.34 544.8 1108.06C546.13 1109.79 547.47 1111.48 548.8 1113.15C550.13 1114.82 551.47 1116.45 552.8 1118.07C554.13 1119.68 555.6 1121.41 556.8 1122.82C558 1124.23 557.8 1124.08 560 1126.51C562.2 1128.94 566.67 1133.92 570 1137.41C573.33 1140.9 576.67 1144.22 580 1147.43C583.33 1150.63 586.67 1153.69 590 1156.63C593.33 1159.58 596.67 1162.39 600 1165.11C603.33 1167.82 606.67 1170.42 610 1172.92C613.33 1175.43 616.67 1177.83 620 1180.16C623.33 1182.49 626.67 1184.73 630 1186.9C633.33 1189.07 636.67 1191.17 640 1193.2C643.33 1195.24 646.67 1197.21 650 1199.12C653.33 1201.03 656.67 1202.88 660 1204.68C663.33 1206.49 666.67 1208.23 670 1209.94C673.33 1211.64 676.67 1213.3 680 1214.92C683.33 1216.54 686.67 1218.11 690 1219.66C693.33 1221.2 696.67 1222.71 700 1224.19C703.33 1225.67 706.67 1227.12 710 1228.54C713.33 1229.96 716.67 1231.35 720 1232.71C723.33 1234.07 726.67 1235.4 730 1236.7C733.33 1238.01 736.67 1239.29 740 1240.54C743.33 1241.79 746.67 1243.02 750 1244.23C753.33 1245.43 756.67 1246.61 760 1247.77C763.33 1248.93 766.67 1250.06 770 1251.16C773.33 1252.27 776.67 1253.35 780 1254.4C783.33 1255.45 786.67 1256.48 790 1257.47C793.33 1258.46 794.17 1258.81 800 1260.36C805.83 1261.92 816.67 1264.85 825 1266.78C833.33 1268.72 841.67 1270.43 850 1271.96C858.33 1273.49 866.67 1274.81 875 1275.96C883.33 1277.11 891.67 1278.07 900 1278.88C908.33 1279.68 916.67 1280.31 925 1280.81C933.33 1281.3 941.67 1281.64 950 1281.86C958.33 1282.07 966.67 1282.14 975 1282.12C983.33 1282.09 991.67 1281.93 1000 1281.69C1008.33 1281.45 1016.67 1281.09 1025 1280.67C1033.33 1280.24 1041.67 1279.72 1050 1279.14C1058.33 1278.56 1066.67 1277.9 1075 1277.19C1083.33 1276.49 1091.67 1275.72 1100 1274.93C1108.33 1274.13 1116.67 1273.29 1125 1272.43C1133.33 1271.58 1141.67 1270.68 1150 1269.79C1158.33 1268.91 1166.67 1267.99 1175 1267.11C1183.33 1266.22 1191.67 1265.32 1200 1264.46C1208.33 1263.6 1220.48 1262.4 1225 1261.95C1229.52 1261.49 1226.75 1261.78 1227.1 1261.74" fill="none" stroke="#2f4ba6" stroke-width="3.7" stroke-linecap="round" stroke-linejoin="round"/>
<path d="M421.26 1375.1v-7.1M421.26 648.1v7.1M494.52 1375.1v-13.4M494.52 648.1v13.4M567.77 1375.1v-7.1M567.77 648.1v7.1M641.03 1375.1v-13.4M641.03 648.1v13.4M714.29 1375.1v-7.1M714.29 648.1v7.1M787.55 1375.1v-13.4M787.55 648.1v13.4M860.81 1375.1v-7.1M860.81 648.1v7.1M934.07 1375.1v-13.4M934.07 648.1v13.4M1007.32 1375.1v-7.1M1007.32 648.1v7.1M1080.58 1375.1v-13.4M1080.58 648.1v13.4M1153.84 1375.1v-7.1M1153.84 648.1v7.1M348 1294.32h7.1M1227.1 1294.32h-7.1M348 1213.54h13.4M1227.1 1213.54h-13.4M348 1132.77h7.1M1227.1 1132.77h-7.1M348 1051.99h13.4M1227.1 1051.99h-13.4M348 971.21h7.1M1227.1 971.21h-7.1M348 890.43h13.4M1227.1 890.43h-13.4M348 809.66h7.1M1227.1 809.66h-7.1M348 728.88h13.4M1227.1 728.88h-13.4" stroke="#111312" stroke-width="3.7" fill="none"/>
<rect x="348" y="648.1" width="879.1" height="727" fill="none" stroke="#111312" stroke-width="3.8"/>
<text x="348" y="1426" font-size="44.5" text-anchor="middle" class="s">0</text>
<text x="494.52" y="1426" font-size="44.5" text-anchor="middle" class="s">50</text>
<text x="641.03" y="1426" font-size="44.5" text-anchor="middle" class="s">100</text>
<text x="787.55" y="1426" font-size="44.5" text-anchor="middle" class="s">150</text>
<text x="934.07" y="1426" font-size="44.5" text-anchor="middle" class="s">200</text>
<text x="1080.58" y="1426" font-size="44.5" text-anchor="middle" class="s">250</text>
<text x="1227.1" y="1426" font-size="44.5" text-anchor="middle" class="s">300</text>
<text x="332.5" y="1388.5" font-size="44.5" text-anchor="end" class="s">0</text>
<text x="332.5" y="1226.94" font-size="44.5" text-anchor="end" class="s">1</text>
<text x="332.5" y="1065.39" font-size="44.5" text-anchor="end" class="s">2</text>
<text x="332.5" y="903.83" font-size="44.5" text-anchor="end" class="s">3</text>
<text x="332.5" y="742.28" font-size="44.5" text-anchor="end" class="s">4</text>
<text x="731.5" y="1505" font-size="52.5" class="s"><tspan font-style="italic">T</tspan> (K)</text>
<g transform="translate(254.5,1139.5) rotate(-90)"><text transform="translate(-3,0) scale(1.32,1) skewX(-6)" font-size="52" font-style="italic" class="r">ρ</text><text x="29.5" y="13" font-size="37" class="s">xx</text><text x="81.2" y="0" font-size="53.5" class="s">(m<tspan font-family="Liberation Serif" font-size="54">Ω</tspan> cm)</text></g>
<text x="205" y="656" font-size="52" class="s">(c)</text>
<text x="411.5" y="725" font-size="36" class="s">S2</text>
<text x="378" y="938" font-size="36" class="s">S1</text>
<polygon points="622.5,912.6 1023,912.6 1113.1,825.6 710.8,825.6" fill="#deeaf6" stroke="#41719c" stroke-width="1.1" stroke-linejoin="round"/>
<polygon points="622.5,912.6 658.3,912.6 746.6,825.6 710.8,825.6" fill="#fcd372" stroke="#41719c" stroke-width="1.1" stroke-linejoin="round"/>
<polygon points="710.8,912.6 746.9,912.6 835.2,825.6 799.1,825.6" fill="#fcd372" stroke="#41719c" stroke-width="1.1" stroke-linejoin="round"/>
<polygon points="905.2,912.6 940.1,912.6 1028.4,825.6 993.5,825.6" fill="#fcd372" stroke="#41719c" stroke-width="1.1" stroke-linejoin="round"/>
<polygon points="987.5,912.6 1023,912.6 1111.3,825.6 1075.8,825.6" fill="#fcd372" stroke="#41719c" stroke-width="1.1" stroke-linejoin="round"/>
<polygon points="880.68,846.9 919.58,846.9 941.2,825.6 902.3,825.6" fill="#fcd372" stroke="#41719c" stroke-width="1.1" stroke-linejoin="round"/>
<polygon points="816.9,912.6 852.7,912.6 874.32,891.3 838.52,891.3" fill="#fcd372" stroke="#41719c" stroke-width="1.1" stroke-linejoin="round"/>
<polygon points="622.5,912.6 1023,912.6 1023,926.6 622.5,926.6" fill="#679acb" stroke="#41719c" stroke-width="1.1" stroke-linejoin="round"/>
<polygon points="1023,912.6 1113.1,825.6 1113.1,838.8 1023,926.6" fill="#679acb" stroke="#41719c" stroke-width="1.1" stroke-linejoin="round"/>
<line x1="872.8" y1="775" x2="872.8" y2="732.6" stroke="#2f4ba6" stroke-width="4.8"/><polygon points="872.8,724.1 877.8,733.6 867.8,733.6" fill="#2f4ba6"/>
<line x1="962" y1="871" x2="1104.6" y2="871" stroke="#df2d1f" stroke-width="4.3"/><polygon points="1113.1,871 1103.6,876 1103.6,866" fill="#df2d1f"/>
<line x1="872.8" y1="873.6" x2="872.8" y2="781.4" stroke="#0c0c0c" stroke-width="5.2"/><polygon points="872.8,773.4 877.8,782.4 867.8,782.4" fill="#0c0c0c"/>
<line x1="870.2" y1="871" x2="957.4" y2="871" stroke="#0c0c0c" stroke-width="5.2"/><polygon points="965.4,871 956.4,876 956.4,866" fill="#0c0c0c"/>
<line x1="873.3" y1="870.5" x2="810.94" y2="939.43" stroke="#0c0c0c" stroke-width="5.2"/><polygon points="804.9,946.1 807.9,935.33 815.32,942.04" fill="#0c0c0c"/>
<text x="836.5" y="791" font-size="48.5" class="s">b</text>
<text x="952" y="857" font-size="47.5" class="s">a</text>
<text x="814" y="977" font-size="47.5" class="s">c</text>
<text x="881.5" y="747" font-size="51.5" font-family="Liberation Serif" font-style="italic" fill="#2f4ba6">H</text>
<text x="1126" y="894" font-size="50" font-family="Liberation Serif" font-style="italic" fill="#df2d1f">I</text>
</g>
</svg>
</body></html>
